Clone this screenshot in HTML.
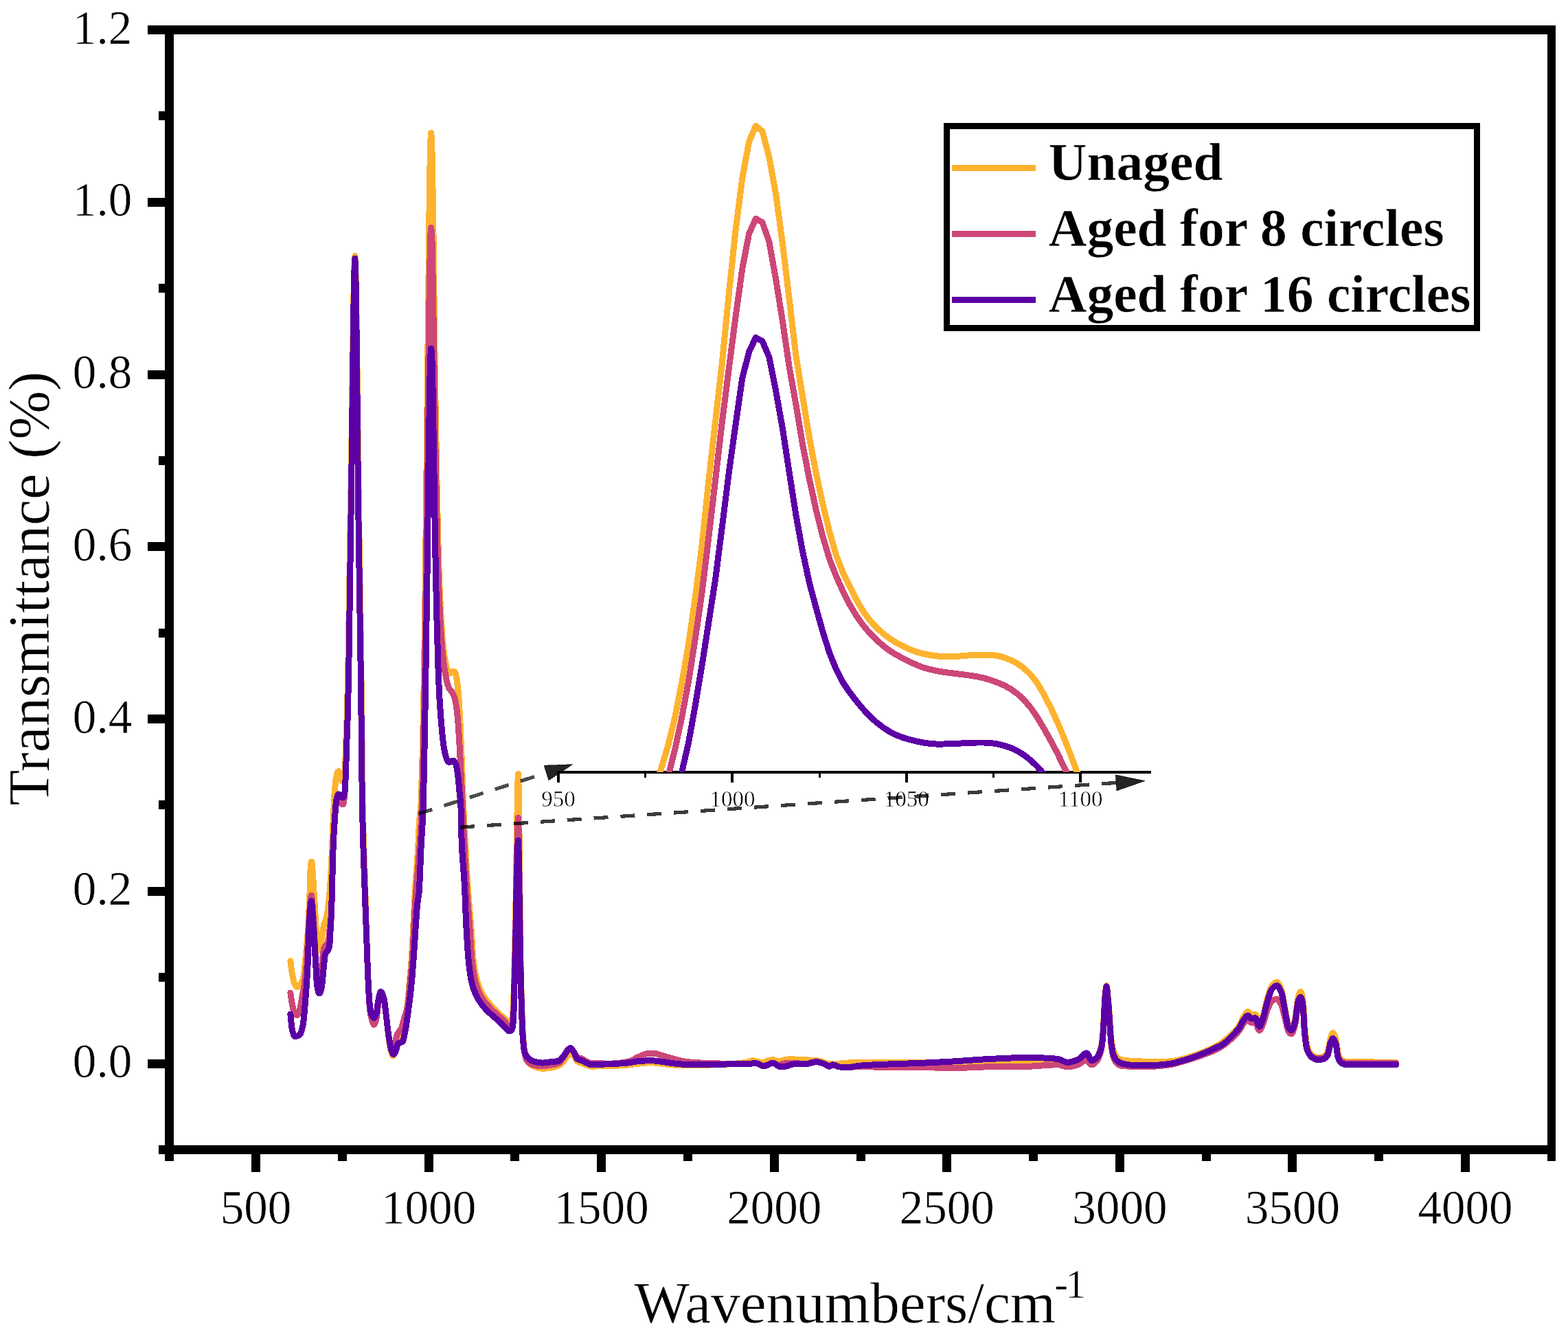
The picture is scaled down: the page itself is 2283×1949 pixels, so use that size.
<!DOCTYPE html>
<html lang="en"><head><meta charset="utf-8"><title>FTIR spectra</title>
<style>
html,body{margin:0;padding:0;background:#fff;}
body{width:2283px;height:1949px;overflow:hidden;}
svg{display:block;}
text{font-family:"Liberation Serif","Times New Roman",Times,serif;fill:#000;stroke:#fff;stroke-width:0.5px;}
.tk{font-size:70.5px;}
.ti{font-size:85.3px;}
.lg{font-size:77.5px;font-weight:bold;}
.it{font-size:33px;}
.c{fill:none;stroke-linejoin:round;stroke-linecap:round;shape-rendering:crispEdges;}
</style></head><body>
<svg width="2283" height="1949" viewBox="0 0 2283 1949">
<rect x="0" y="0" width="2283" height="1949" fill="#fff"/>
<g class="c" stroke-width="9">
<polyline stroke="#FDB32F" points="422.9,1398.8 423.9,1407.2 424.9,1414.4 425.5,1418 425.9,1420.1 426.9,1425.1 427.9,1429.1 428.6,1431 429.9,1433.6 430.9,1435.2 431.9,1436.3 432.8,1436.7 433.9,1436.3 434.9,1435.5 435.9,1434.4 437,1433 437.9,1431.9 438.9,1430.4 439.9,1428.5 440.9,1426.1 441.7,1423.6 442.9,1415.8 443.9,1405.7 445.1,1392.7 445.9,1384.8 446.9,1374.2 447.9,1361.8 448.9,1346.1 449.7,1330.9 451,1300 451.9,1268 452.9,1256.6 453.5,1254.3 453.9,1255.4 455.2,1268 455.9,1278.6 456.8,1295 458,1313 458.9,1328.4 459.9,1346.1 460.8,1358.3 461.9,1368 463.2,1376 463.9,1379.3 465.2,1383 465.9,1381.4 466.9,1375.7 467.5,1372 467.9,1369.7 468.9,1362.9 469.8,1357 470.9,1350.4 472,1345 472.9,1342.3 473.9,1339.8 474.5,1338 474.9,1336.6 475.9,1332.6 476.8,1328 477.9,1320.2 478.8,1312 479.9,1300.1 480.8,1288 481.9,1269 483,1246.2 483.9,1225.5 484.9,1200.6 485.6,1184.4 486.9,1158.1 487.3,1152 487.9,1144.9 488.9,1135.3 489.6,1131 490.9,1126 491.9,1123.4 492.7,1122.7 493.9,1123.9 494.9,1126.2 495.6,1128 496.9,1133.7 498,1137 498.9,1136.9 499.9,1136.4 500.5,1136 500.9,1134.6 501.9,1123.9 502.3,1118 502.9,1105.4 503.9,1076.3 504.9,1051.3 505.6,1030 506.9,970.7 507.9,910.9 508.9,845.8 509.9,781.6 510.3,757 510.9,719.9 511.9,647.6 512.9,570.4 513.9,496.3 514.9,433.2 515.9,389.4 516.9,372.7 517.9,393.6 518.9,449.3 519.9,527.5 520.9,616.2 521.9,703 522.6,757 523.9,843.2 524.9,910.3 525.9,982 526.5,1030 526.9,1066.4 528,1169 528.9,1208.8 529.9,1241.4 530.9,1268.9 531.9,1300 532.9,1336.9 533.6,1361.8 534.9,1399.4 535.9,1423.6 536.9,1443.5 538.2,1462.2 538.9,1467.2 539.9,1472.8 540.9,1476.6 541.3,1477.6 541.9,1478.7 542.9,1480.4 543.9,1481.4 544.4,1481.5 544.9,1481.4 545.9,1480.3 546.9,1478.3 547.9,1475.7 548.3,1474.5 548.9,1471.3 549.9,1462.7 550.6,1457.5 551.9,1451 552.9,1446.6 553.9,1444 554.4,1443.6 554.9,1443.8 555.9,1445 556.9,1447.2 557.9,1450.2 559.1,1454.4 559.9,1458.5 560.9,1466.3 562.2,1477.6 562.9,1483.5 563.9,1492.8 564.9,1502.1 566,1511 566.9,1517.1 567.9,1523.5 568.9,1528.7 569.5,1531 569.9,1532.2 570.9,1535 571.9,1536.8 572.3,1537 572.9,1536.6 573.9,1534.7 574.9,1531.8 575.5,1530 575.9,1528.7 576.9,1524.3 578.2,1519.5 578.9,1518.5 579.9,1517.4 581.2,1516 581.9,1515 582.9,1513.5 583.9,1511.5 584.5,1510 584.9,1508.7 585.9,1503.7 586.9,1497.6 587.5,1494 587.9,1492 588.9,1486.7 589.9,1481.3 590.5,1478 590.9,1476 591.9,1471.1 592.9,1465.5 593.4,1462 593.9,1457.9 594.9,1446.9 596.2,1431 596.9,1423.6 597.9,1412.9 598.9,1401.2 599.5,1392.7 599.9,1386.7 600.9,1367.4 601.9,1346.3 602.9,1325.5 604,1303 604.9,1289 605.9,1274.9 606.9,1261.4 608,1245 608.9,1229 609.9,1208.6 610.9,1191.3 611.5,1184.4 611.9,1182.3 612.8,1177.5 613.6,1149.6 615,1102.5 616,1055.9 617,1005.6 617.9,953.7 619.1,860.6 619.9,795.8 620.5,730.9 620.9,698.7 621.2,666.1 621.9,601.3 622.6,543.6 623.7,429.5 624.4,364.6 625.1,299.8 625.7,256.7 626.5,217.7 626.9,204 627.5,193.5 627.9,195.4 628.4,202.1 628.9,216.2 629.4,241.5 629.9,265.9 630.4,299.8 630.9,333.2 631.3,364.6 632,429.5 632.8,494.3 633.4,544.6 633.9,575.1 634.3,601.3 634.9,635.9 635.4,666.1 635.9,693.1 636.6,730.9 638.1,795.8 638.9,823.3 639.4,839 639.9,851.3 640.9,872.7 641.4,882.5 641.9,893.1 642.6,906.1 644.1,928 644.9,936.6 645.6,943.7 647.2,955.5 647.9,959.8 648.7,964.2 649.9,969.9 650.2,971.3 650.9,973.5 651.8,976 652.9,978 653.3,978.6 653.9,979.3 654.8,979.9 655.9,979.7 656.4,979.5 656.9,979.2 657.9,978.3 658.9,977.6 659.4,977.5 659.9,977.5 661,977.5 661.9,977.9 662.5,978.6 662.9,979.5 663.3,981.1 663.9,983.2 664.9,987.8 665.9,994.5 666.4,998.8 666.9,1003.3 667.9,1016 668.9,1031.6 669.5,1042.7 669.9,1051 671,1075.8 671.9,1097 672.5,1113.4 672.9,1122.8 673.8,1149.6 674.9,1177.5 675.9,1197.5 676.8,1215 677.9,1235.4 678.9,1254.2 679.9,1272 681,1290 681.9,1301.9 682.9,1314.3 683.9,1325.8 684.9,1337.5 685.8,1349.2 686.9,1365.1 687.9,1381 688.9,1394.4 689.3,1398.5 689.9,1402.9 690.9,1409.7 691.9,1415.6 692.9,1420.6 693.9,1424.9 695,1429 695.9,1431.8 696.9,1434.7 697.9,1437.4 698.9,1439.8 699.9,1442 700.9,1444.1 701.9,1446 703,1448 703.9,1449.5 704.9,1451 705.9,1452.5 706.9,1453.9 707.9,1455.3 708.9,1456.5 709.9,1457.8 710.9,1459 711.9,1460.2 713,1461.5 713.9,1462.5 714.9,1463.6 715.9,1464.7 716.9,1465.8 717.9,1466.9 718.9,1467.9 719.9,1468.9 720.9,1469.9 721.9,1470.9 722.9,1471.9 723.9,1472.9 724.5,1473.5 724.9,1473.8 725.9,1474.8 726.9,1475.7 727.9,1476.6 728.9,1477.5 729.9,1478.3 730.9,1479.2 731.9,1480.1 732.9,1481 733.9,1481.9 734.9,1482.9 735.5,1483.5 735.9,1483.9 736.9,1485.2 737.9,1486.6 738.9,1488 739.9,1489.1 740.9,1489.9 741.5,1490 741.9,1490 742.9,1489.3 743.9,1488.1 745,1486 745.9,1482.3 746.9,1473.2 747.4,1466 747.9,1452.4 748.4,1430 748.9,1413.1 749.7,1380 750.9,1320 751.9,1250 752.9,1189.8 753.9,1138.5 754.5,1126.6 754.9,1133.9 755.9,1204.4 756.4,1250 756.9,1292.4 758,1398.5 758.9,1436.7 759.7,1464.1 760.9,1496.6 761.3,1505.1 761.9,1513 762.9,1524 763.8,1531 764.9,1536.5 765.9,1540.6 767,1543.5 767.9,1544.9 768.9,1546.2 769.9,1547.4 770.9,1548.4 771.9,1549.3 772.9,1550 773.9,1550.6 774.9,1551.1 775.9,1551.5 776.9,1552 777.9,1552.4 778.9,1552.8 779.9,1553.2 780.9,1553.5 781.9,1553.9 782.9,1554.2 783.9,1554.4 784.9,1554.7 785.9,1554.9 786.9,1555 787.9,1555.1 788.9,1555.2 789.6,1555.2 790.9,1555.2 791.9,1555.2 792.9,1555.1 793.9,1555 794.9,1555 795.9,1554.9 796.9,1554.8 797.9,1554.7 798.9,1554.6 799.9,1554.5 801.1,1554.3 801.9,1554.2 802.9,1554 803.9,1553.9 804.9,1553.6 805.9,1553.4 806.9,1553.1 807.9,1552.8 808.9,1552.5 809.9,1552.2 810.9,1551.8 811.9,1551.4 812.6,1551.1 813.9,1550.5 814.9,1549.9 815.9,1549.1 816.9,1548.3 817.9,1547.4 818.9,1546.5 819.9,1545.5 820.8,1544.5 821.9,1543.2 822.9,1541.7 823.9,1540.1 824.9,1538.5 826,1537 826.8,1536 827.8,1534.7 828.8,1533.5 829.8,1532.7 830.7,1532.5 831.8,1532.9 832.8,1533.7 833.8,1534.9 834.8,1536.1 835.6,1537 836.8,1538.8 837.8,1540.6 838.8,1542.4 839.8,1543.9 840.5,1544.5 841.8,1545.3 842.8,1545.8 843.8,1546.3 844.8,1546.6 845.8,1547 847.1,1547.5 847.8,1547.8 848.8,1548.2 849.8,1548.6 850.8,1549 851.8,1549.4 852.8,1549.7 853.6,1550 854.8,1550.5 855.8,1550.9 856.8,1551.3 857.8,1551.6 858.8,1551.9 859.8,1552 860.2,1552 860.8,1552 861.8,1552 862.8,1552 863.8,1552 864.8,1552 865.8,1552 866.8,1552 867.8,1552 868.8,1551.9 869.8,1551.9 870.8,1551.9 871.8,1551.9 872.8,1551.9 873.8,1551.9 874.8,1551.9 875.8,1551.8 876.8,1551.8 877.8,1551.8 878.8,1551.8 879.8,1551.7 880.8,1551.7 881.8,1551.7 882.8,1551.7 883.8,1551.7 884.8,1551.6 885.8,1551.6 886.8,1551.6 887.8,1551.5 888.8,1551.5 889.7,1551.5 890.8,1551.5 891.8,1551.4 892.8,1551.4 893.8,1551.4 894.8,1551.3 895.8,1551.3 896.8,1551.2 897.8,1551.2 898.8,1551.1 899.8,1551.1 900.8,1551 901.8,1550.9 902.8,1550.9 903.8,1550.8 904.8,1550.7 905.8,1550.7 906.8,1550.6 907.8,1550.5 908.8,1550.4 909.8,1550.4 910.8,1550.3 911.8,1550.2 912.8,1550.1 913.8,1550 914.4,1550 914.8,1550 915.8,1549.9 916.8,1549.8 917.8,1549.6 918.8,1549.5 919.8,1549.4 920.8,1549.3 921.8,1549.1 922.8,1549 923.8,1548.8 924.8,1548.7 925.8,1548.6 926.8,1548.4 927.8,1548.3 928.8,1548.2 929.8,1548.1 930.8,1548 931.8,1547.9 932.8,1547.8 933.8,1547.7 934.8,1547.6 935.8,1547.5 936.8,1547.4 937.8,1547.3 938.8,1547.2 939.8,1547.1 940.8,1547.1 941.8,1547 942.8,1546.9 943.8,1546.9 944.8,1546.8 945.8,1546.8 946.8,1546.8 947.2,1546.8 947.8,1546.8 948.8,1546.8 949.8,1546.9 950.8,1546.9 951.8,1547 952.8,1547.1 953.8,1547.1 954.8,1547.2 955.8,1547.3 956.8,1547.5 957.8,1547.6 958.8,1547.7 959.8,1547.8 960.8,1547.9 961.8,1548 962.8,1548.1 963.6,1548.2 964.8,1548.3 965.8,1548.4 966.8,1548.6 967.8,1548.7 968.8,1548.8 969.8,1549 970.8,1549.1 971.8,1549.2 972.8,1549.3 973.8,1549.5 974.8,1549.6 975.8,1549.7 976.8,1549.8 977.8,1549.9 978.8,1549.9 980,1550 980.8,1550 981.8,1550.1 982.8,1550.1 983.8,1550.2 984.8,1550.2 985.8,1550.2 986.8,1550.3 987.8,1550.3 988.8,1550.3 989.8,1550.3 990.8,1550.4 991.8,1550.4 992.8,1550.4 993.8,1550.4 994.8,1550.5 995.8,1550.5 996.8,1550.5 997.8,1550.5 998.8,1550.5 1000,1550.5 1000.8,1550.5 1001.8,1550.5 1002.8,1550.5 1003.8,1550.5 1004.8,1550.5 1005.8,1550.5 1006.8,1550.5 1007.8,1550.5 1008.8,1550.5 1009.8,1550.5 1010.8,1550.4 1011.8,1550.4 1012.8,1550.4 1013.8,1550.4 1014.8,1550.4 1015.8,1550.4 1016.8,1550.4 1017.8,1550.3 1018.8,1550.3 1019.8,1550.3 1020.8,1550.3 1021.8,1550.3 1022.8,1550.3 1023.8,1550.2 1024.8,1550.2 1025.8,1550.2 1026.8,1550.2 1027.8,1550.1 1028.8,1550.1 1029.8,1550.1 1030.8,1550.1 1031.8,1550 1032.8,1550 1033.8,1550 1034.8,1550 1035.8,1549.9 1036.8,1549.9 1037.8,1549.9 1038.8,1549.9 1039.8,1549.8 1040.8,1549.8 1041.8,1549.8 1042.8,1549.7 1043.8,1549.7 1044.8,1549.7 1045.8,1549.6 1046.8,1549.6 1047.8,1549.6 1048.8,1549.5 1050,1549.5 1050.8,1549.5 1051.8,1549.4 1052.8,1549.4 1053.8,1549.3 1054.8,1549.3 1055.8,1549.3 1056.8,1549.2 1057.8,1549.1 1058.8,1549.1 1059.8,1549 1060.8,1549 1061.8,1548.9 1062.8,1548.8 1063.8,1548.7 1064.8,1548.7 1065.8,1548.6 1066.8,1548.5 1067.8,1548.4 1068.8,1548.3 1069.8,1548.2 1070.8,1548.1 1071.8,1548 1072.8,1547.9 1073.8,1547.8 1074.8,1547.7 1075.8,1547.6 1076.8,1547.5 1077.8,1547.4 1078.8,1547.3 1079.8,1547.2 1080.8,1547 1081.8,1546.9 1082.8,1546.8 1083.8,1546.7 1085,1546.5 1085.8,1546.4 1086.8,1546.1 1087.8,1545.9 1088.8,1545.6 1089.8,1545.3 1090.8,1544.9 1091.8,1544.6 1092.8,1544.3 1093.8,1544.1 1094.8,1543.9 1095.8,1543.8 1096.5,1543.8 1097.8,1543.9 1098.8,1544.1 1099.8,1544.4 1100.8,1544.7 1101.8,1545 1102.8,1545.2 1104,1545.5 1104.8,1545.6 1105.8,1545.8 1106.8,1546 1107.8,1546.2 1108.8,1546.4 1109.8,1546.5 1111,1546.5 1111.8,1546.4 1112.8,1546.2 1113.8,1545.8 1114.8,1545.3 1115.8,1544.8 1116.8,1544.4 1118,1544 1118.8,1543.8 1119.8,1543.5 1120.8,1543.3 1121.8,1543.1 1122.8,1542.9 1123.8,1542.7 1124.8,1542.6 1125.5,1542.6 1126.8,1542.8 1127.8,1543 1128.8,1543.4 1129.8,1543.8 1130.8,1544.2 1131.8,1544.6 1132.8,1544.9 1134,1545 1134.8,1545 1135.8,1544.8 1136.8,1544.6 1137.8,1544.3 1138.8,1543.9 1139.8,1543.6 1140.8,1543.3 1142,1543 1142.8,1542.8 1143.8,1542.6 1144.8,1542.4 1145.8,1542.2 1146.8,1542 1147.8,1541.9 1148.8,1541.8 1149.6,1541.8 1150.8,1541.8 1151.8,1541.8 1152.8,1541.8 1153.8,1541.9 1154.8,1541.9 1155.8,1541.9 1156.8,1542 1157.8,1542 1158.8,1542.1 1159.8,1542.1 1160.8,1542.2 1161.8,1542.2 1162.8,1542.3 1163.8,1542.3 1164.8,1542.4 1165.8,1542.4 1166.8,1542.5 1167.8,1542.5 1168.9,1542.6 1169.8,1542.6 1170.8,1542.7 1171.8,1542.7 1172.8,1542.8 1173.8,1542.8 1174.8,1542.9 1175.8,1542.9 1176.8,1543 1177.8,1543 1178.8,1543.1 1179.8,1543.1 1180.8,1543.2 1181.8,1543.2 1182.8,1543.3 1183.8,1543.4 1184.8,1543.4 1185.8,1543.5 1186.8,1543.6 1187.8,1543.7 1188.8,1543.8 1189.8,1543.8 1190.8,1543.9 1191.8,1544.1 1193.1,1544.2 1193.8,1544.3 1194.8,1544.5 1195.8,1544.8 1196.8,1545.2 1197.8,1545.5 1198.8,1546 1199.8,1546.4 1200.8,1546.8 1201.8,1547.1 1202.8,1547.5 1203.8,1547.8 1205,1548 1205.8,1548.1 1206.8,1548.3 1207.8,1548.4 1208.8,1548.5 1209.8,1548.7 1210.8,1548.8 1211.8,1548.9 1212.8,1548.9 1213.8,1549 1215,1549 1215.8,1549 1216.8,1548.9 1217.8,1548.9 1218.8,1548.8 1219.8,1548.7 1220.8,1548.5 1221.8,1548.4 1222.8,1548.2 1223.8,1548.1 1224.8,1547.9 1225.8,1547.8 1226.8,1547.6 1227.8,1547.5 1228.8,1547.4 1229.2,1547.4 1229.8,1547.4 1230.8,1547.3 1231.8,1547.2 1232.8,1547.1 1233.8,1547.1 1234.8,1547 1235.8,1546.9 1236.8,1546.9 1237.8,1546.8 1238.8,1546.7 1239.8,1546.7 1240.8,1546.6 1241.8,1546.6 1242.8,1546.5 1243.8,1546.5 1244.8,1546.4 1245.8,1546.4 1246.8,1546.3 1247.8,1546.3 1248.8,1546.3 1249.8,1546.2 1250.8,1546.2 1251.8,1546.2 1252.8,1546.2 1253.4,1546.2 1253.8,1546.2 1254.8,1546.2 1255.8,1546.2 1256.8,1546.2 1257.8,1546.2 1258.8,1546.2 1259.8,1546.2 1260.8,1546.2 1261.8,1546.2 1262.8,1546.2 1263.8,1546.2 1264.8,1546.2 1265.8,1546.2 1266.8,1546.2 1267.8,1546.2 1268.8,1546.2 1269.8,1546.2 1270.8,1546.2 1271.8,1546.2 1272.8,1546.2 1273.8,1546.2 1274.8,1546.2 1275.8,1546.2 1276.8,1546.2 1277.8,1546.2 1278.8,1546.2 1279.8,1546.2 1280.8,1546.2 1281.8,1546.2 1282.8,1546.2 1283.8,1546.2 1284.8,1546.2 1285.8,1546.2 1286.8,1546.2 1287.8,1546.2 1288.8,1546.2 1289.6,1546.2 1290.8,1546.2 1291.8,1546.2 1292.8,1546.2 1293.8,1546.2 1294.8,1546.2 1295.8,1546.2 1296.8,1546.2 1297.8,1546.2 1298.8,1546.2 1299.8,1546.2 1300.8,1546.2 1301.8,1546.2 1302.8,1546.2 1303.8,1546.2 1304.8,1546.2 1305.8,1546.2 1306.8,1546.2 1307.8,1546.2 1308.8,1546.2 1309.8,1546.2 1310.8,1546.2 1311.8,1546.2 1312.8,1546.2 1313.8,1546.2 1314.8,1546.2 1315.8,1546.2 1316.8,1546.2 1317.8,1546.2 1318.8,1546.2 1319.8,1546.2 1320.8,1546.2 1321.8,1546.2 1322.8,1546.2 1323.8,1546.2 1324.8,1546.2 1325.8,1546.2 1326.8,1546.2 1327.8,1546.2 1328.8,1546.2 1329.8,1546.2 1330.8,1546.2 1331.8,1546.2 1332.8,1546.2 1333.8,1546.2 1334.8,1546.2 1335.8,1546.2 1336.8,1546.2 1337.8,1546.2 1338.8,1546.3 1339.8,1546.3 1340.8,1546.3 1341.8,1546.3 1342.8,1546.3 1343.8,1546.3 1344.8,1546.3 1345.8,1546.3 1346.8,1546.3 1347.8,1546.3 1348.8,1546.3 1349.8,1546.4 1350.8,1546.4 1351.8,1546.4 1352.8,1546.4 1353.8,1546.4 1354.8,1546.4 1355.8,1546.4 1356.8,1546.4 1357.8,1546.5 1358.8,1546.5 1359.8,1546.5 1360.8,1546.5 1361.8,1546.5 1362.8,1546.5 1363.8,1546.5 1364.8,1546.5 1365.8,1546.6 1366.8,1546.6 1367.8,1546.6 1368.8,1546.6 1369.8,1546.6 1370.8,1546.6 1371.8,1546.6 1372.8,1546.7 1373.8,1546.7 1374.8,1546.7 1375.8,1546.7 1376.8,1546.7 1377.8,1546.7 1378.8,1546.7 1379.8,1546.7 1380.8,1546.7 1381.8,1546.8 1382.8,1546.8 1383.8,1546.8 1384.8,1546.8 1386.1,1546.8 1386.8,1546.8 1387.8,1546.8 1388.8,1546.8 1389.8,1546.8 1390.8,1546.8 1391.8,1546.9 1392.8,1546.9 1393.8,1546.9 1394.8,1546.9 1395.8,1546.9 1396.8,1546.9 1397.8,1546.9 1398.8,1546.9 1399.8,1546.9 1400.8,1546.9 1401.8,1546.9 1402.8,1547 1403.8,1547 1404.8,1547 1405.8,1547 1406.8,1547 1407.8,1547 1408.8,1547 1409.8,1547 1410.8,1547 1411.8,1547 1412.8,1547 1413.8,1547.1 1414.8,1547.1 1415.8,1547.1 1416.8,1547.1 1417.8,1547.1 1418.8,1547.1 1419.8,1547.1 1420.8,1547.1 1421.8,1547.1 1422.8,1547.1 1423.8,1547.1 1424.8,1547.1 1425.8,1547.1 1426.8,1547.2 1427.8,1547.2 1428.8,1547.2 1429.8,1547.2 1430.8,1547.2 1431.8,1547.2 1432.8,1547.2 1433.8,1547.2 1434.4,1547.2 1434.8,1547.2 1435.8,1547.2 1436.8,1547.2 1437.8,1547.2 1438.8,1547.2 1439.8,1547.2 1440.8,1547.2 1441.8,1547.2 1442.8,1547.2 1443.8,1547.3 1444.8,1547.3 1445.8,1547.3 1446.8,1547.3 1447.8,1547.3 1448.8,1547.3 1449.8,1547.3 1450.8,1547.3 1451.8,1547.3 1452.8,1547.3 1453.8,1547.3 1454.8,1547.3 1455.8,1547.3 1456.8,1547.3 1457.8,1547.3 1458.8,1547.3 1459.8,1547.3 1460.8,1547.3 1461.8,1547.3 1462.8,1547.4 1463.8,1547.4 1464.8,1547.4 1465.8,1547.4 1466.8,1547.4 1467.8,1547.4 1468.8,1547.4 1469.8,1547.4 1470.8,1547.4 1471.8,1547.4 1472.8,1547.4 1473.8,1547.4 1474.8,1547.4 1475.8,1547.4 1476.8,1547.4 1477.8,1547.4 1478.8,1547.4 1479.8,1547.4 1480.8,1547.4 1481.8,1547.4 1482.6,1547.4 1483.8,1547.4 1484.8,1547.4 1485.8,1547.4 1486.8,1547.4 1487.8,1547.4 1488.8,1547.4 1489.8,1547.4 1490.8,1547.4 1491.8,1547.3 1492.8,1547.3 1493.8,1547.3 1494.8,1547.3 1495.8,1547.3 1496.8,1547.3 1497.8,1547.2 1498.8,1547.2 1499.8,1547.2 1500.8,1547.2 1501.8,1547.2 1502.8,1547.1 1503.8,1547.1 1504.8,1547.1 1505.8,1547.1 1506.8,1547.1 1507.8,1547 1508.8,1547 1509.8,1547 1510.8,1547 1511.8,1546.9 1512.8,1546.9 1513.8,1546.9 1514.8,1546.9 1515.8,1546.8 1516.8,1546.8 1517.8,1546.8 1518.8,1546.8 1519.8,1546.8 1520.8,1546.7 1521.8,1546.7 1522.8,1546.7 1523.8,1546.7 1524.8,1546.7 1525.8,1546.6 1526.8,1546.6 1527.8,1546.6 1528.8,1546.6 1529.8,1546.6 1530.8,1546.6 1531.8,1546.6 1532.8,1546.5 1533.8,1546.5 1534.8,1546.5 1535.8,1546.5 1536.8,1546.5 1537.8,1546.5 1538.8,1546.5 1540,1546.5 1540.8,1546.5 1541.8,1546.6 1542.8,1546.7 1543.8,1546.9 1544.8,1547.1 1545.8,1547.4 1546.8,1547.6 1547.8,1547.9 1548.8,1548.1 1549.8,1548.4 1550.8,1548.6 1551.8,1548.8 1552.8,1548.9 1553.8,1549 1554.4,1549 1554.8,1549 1555.8,1549 1556.8,1548.9 1557.8,1548.8 1558.8,1548.6 1559.8,1548.5 1560.8,1548.3 1561.8,1548.1 1562.8,1547.8 1563.8,1547.5 1564.8,1547.3 1565.8,1547 1566.8,1546.7 1567.8,1546.4 1568.9,1546 1569.8,1545.7 1570.8,1545.1 1571.8,1544.4 1572.8,1543.5 1573.8,1542.7 1574.8,1541.7 1575.8,1540.8 1576.8,1539.9 1577.8,1539 1578.8,1538.3 1579.8,1537.7 1580.8,1537.3 1581.8,1537 1582.2,1537 1582.8,1537.2 1583.8,1538.1 1584.8,1539.6 1585.8,1541.4 1586.8,1543.2 1587.8,1544.8 1588.8,1545.8 1589.4,1546 1589.8,1546 1590.8,1545.7 1591.8,1545.1 1592.8,1544.4 1593.8,1543.4 1594.8,1542.3 1595.8,1541.1 1596.3,1540.5 1596.8,1539.9 1597.8,1538.3 1598.8,1536.4 1599.8,1534.1 1600.8,1531.5 1601.3,1530 1601.8,1528.7 1602.8,1525.3 1603.8,1520.9 1604.6,1516 1605.8,1503.4 1606.7,1489 1607.8,1467.8 1608.6,1453 1609.8,1440.7 1611,1434.3 1611.8,1437.1 1612.8,1446.3 1613.4,1453 1613.8,1456.7 1614.8,1469.2 1615.8,1483 1616.2,1489 1616.8,1496.8 1617.8,1510.8 1618.2,1515 1618.8,1518.6 1619.8,1523.9 1620.8,1527.9 1621.8,1531 1622.8,1533.2 1623.8,1535.2 1624.8,1536.8 1625.8,1538.2 1626.5,1539 1627.8,1540.2 1628.8,1541.1 1629.8,1541.8 1630.7,1542.3 1631.7,1542.6 1632.7,1542.8 1633.7,1542.9 1634.7,1543.1 1635.7,1543.2 1636.7,1543.4 1637.7,1543.5 1638.7,1543.6 1639.7,1543.7 1640.7,1543.8 1641.7,1543.8 1642.7,1543.9 1643.7,1544 1644.7,1544 1645.7,1544.1 1646.7,1544.2 1647.7,1544.2 1648.7,1544.3 1649.7,1544.3 1650.7,1544.4 1651.7,1544.4 1652.7,1544.5 1653.4,1544.5 1654.7,1544.6 1655.7,1544.6 1656.7,1544.7 1657.7,1544.8 1658.7,1544.8 1659.7,1544.9 1660.7,1544.9 1661.7,1545 1662.7,1545 1663.7,1545.1 1664.7,1545.1 1665.7,1545.2 1666.7,1545.2 1667.7,1545.3 1668.7,1545.3 1669.7,1545.4 1670.7,1545.4 1671.7,1545.4 1672.7,1545.4 1673.7,1545.5 1674.7,1545.5 1675.7,1545.5 1676.7,1545.5 1677.5,1545.5 1678.7,1545.5 1679.7,1545.5 1680.7,1545.5 1681.7,1545.5 1682.7,1545.5 1683.7,1545.5 1684.7,1545.4 1685.7,1545.4 1686.7,1545.4 1687.7,1545.4 1688.7,1545.4 1689.7,1545.4 1690.7,1545.3 1691.7,1545.3 1692.7,1545.3 1693.7,1545.3 1694.7,1545.2 1695.7,1545.2 1696.7,1545.2 1697.7,1545.1 1698.7,1545.1 1699.7,1545.1 1700.7,1545 1701.6,1545 1702.7,1544.9 1703.7,1544.9 1704.7,1544.8 1705.7,1544.7 1706.7,1544.6 1707.7,1544.4 1708.7,1544.3 1709.7,1544.1 1710.7,1544 1711.7,1543.8 1712.7,1543.6 1713.7,1543.4 1714.7,1543.2 1715.7,1542.9 1716.7,1542.7 1717.7,1542.5 1718.7,1542.2 1719.7,1542 1720.7,1541.7 1721.7,1541.5 1722.7,1541.3 1723.7,1541 1724.7,1540.8 1725.8,1540.5 1726.7,1540.3 1727.7,1540 1728.7,1539.7 1729.7,1539.4 1730.7,1539.1 1731.7,1538.8 1732.7,1538.5 1733.7,1538.2 1734.7,1537.8 1735.7,1537.5 1736.7,1537.1 1737.7,1536.8 1738.7,1536.4 1739.7,1536 1740.7,1535.6 1741.7,1535.2 1742.7,1534.9 1743.7,1534.5 1744.7,1534.1 1745.7,1533.7 1746.7,1533.3 1747.7,1532.9 1748.7,1532.5 1749.9,1532 1750.7,1531.7 1751.7,1531.3 1752.7,1530.9 1753.7,1530.5 1754.7,1530.1 1755.7,1529.7 1756.7,1529.3 1757.7,1528.9 1758.7,1528.4 1759.7,1528 1760.7,1527.6 1761.7,1527.2 1762.7,1526.7 1763.7,1526.3 1764.7,1525.8 1765.7,1525.3 1766.7,1524.9 1767.7,1524.4 1768.7,1523.9 1769.7,1523.4 1770.7,1522.8 1771.7,1522.3 1772.7,1521.7 1774,1521 1774.7,1520.6 1775.7,1519.9 1776.7,1519.3 1777.7,1518.6 1778.7,1517.9 1779.7,1517.2 1780.7,1516.5 1781.7,1515.8 1782.7,1515 1783.7,1514.2 1784.7,1513.4 1785.7,1512.5 1786.7,1511.7 1787.7,1510.8 1788.7,1509.9 1789.7,1509 1790.7,1508.1 1791.7,1507.2 1792.7,1506.2 1793.7,1505.3 1794.5,1504.5 1795.7,1503.3 1796.7,1502.3 1797.7,1501.2 1798.7,1500.1 1799.7,1499 1800.7,1497.8 1801.7,1496.5 1802.7,1495.2 1803.7,1493.8 1804.6,1492.5 1805.7,1490.5 1806.7,1488.5 1807.7,1486.3 1808.7,1484 1809.7,1481.9 1810.7,1480.1 1811.1,1479.5 1811.7,1478.5 1812.7,1476.9 1813.7,1475.3 1814.7,1473.9 1815.7,1472.9 1816.9,1472.4 1817.7,1472.8 1818.7,1473.9 1819.7,1475.4 1820.7,1476.7 1822,1477.5 1822.7,1477.5 1823.7,1477.3 1824.7,1477 1825.7,1476.8 1826.7,1476.6 1827.8,1476.5 1828.7,1477.4 1829.7,1480 1830.7,1483.3 1831.7,1486.7 1832.7,1489.2 1833.6,1490 1834.7,1489.2 1835.7,1487.5 1836.7,1485 1837.7,1482.1 1838.7,1479 1839.4,1477 1840.7,1472.4 1841.7,1468.1 1842.7,1463.6 1843.7,1459.1 1844.7,1455.1 1845.2,1453.5 1845.7,1451.8 1846.7,1448.5 1847.7,1445.4 1848.7,1442.4 1849.7,1439.6 1850.7,1437.3 1851.7,1435.4 1852.4,1434.5 1853.7,1433 1854.7,1432 1855.7,1431.1 1856.7,1430.4 1857.7,1429.9 1858.9,1429.7 1859.7,1429.9 1860.7,1430.7 1861.7,1432 1862.7,1433.7 1863.7,1435.7 1864.7,1437.9 1865.4,1439.5 1866.7,1444.1 1867.7,1449 1868.7,1454.8 1869.7,1460.7 1870.7,1466.5 1871.2,1469 1871.7,1471.8 1872.7,1477.6 1873.7,1483.4 1874.7,1488.2 1875.6,1491 1876.7,1493.3 1877.7,1495.1 1878.7,1496.4 1879.9,1497 1880.7,1496.6 1881.7,1495.2 1882.7,1492.9 1883.7,1490 1884.7,1486.6 1885.7,1483 1886.7,1477 1887.7,1468.6 1888.7,1459.8 1890,1452 1890.7,1449.5 1891.7,1446.4 1892.7,1444.2 1893.7,1443.4 1894.7,1444.7 1895.7,1448.1 1896.7,1453.2 1897.5,1458 1898.7,1476.7 1899.9,1497 1900.7,1505.1 1901.7,1513.7 1902.7,1520.3 1903.6,1524 1904.7,1527 1905.7,1529.3 1906.7,1531.2 1907.7,1532.8 1908.7,1534.1 1909.7,1535.1 1910.8,1536 1911.7,1536.6 1912.7,1537.3 1913.7,1537.8 1914.7,1538.4 1915.7,1538.8 1916.7,1539.2 1917.7,1539.4 1919,1539.5 1919.7,1539.5 1920.7,1539.4 1921.7,1539.3 1922.7,1539.2 1923.7,1539 1924.7,1538.8 1925.7,1538.6 1926.7,1538.3 1927.7,1538 1928.7,1537.5 1929.7,1536.5 1930.7,1535.3 1931.7,1533.7 1932.7,1531.8 1933.3,1530.5 1933.7,1529.3 1934.7,1524.3 1935.7,1518.2 1936.9,1512.5 1937.7,1509.8 1938.7,1506.7 1939.7,1504.4 1940.7,1503.5 1941.7,1504.2 1942.7,1506 1943.7,1508.7 1944.7,1512 1945.3,1514 1945.7,1515.9 1946.7,1523.3 1947.7,1531.1 1948.5,1535 1949.7,1537.9 1950.7,1539.9 1951.7,1541.4 1952.7,1542.6 1953.7,1543.4 1954.2,1543.7 1954.7,1543.9 1955.7,1544.3 1956.7,1544.6 1957.7,1544.9 1958.7,1545.2 1959.7,1545.3 1960.7,1545.5 1961.7,1545.6 1962.4,1545.6 1963.7,1545.6 1964.7,1545.6 1965.7,1545.6 1966.7,1545.7 1967.7,1545.7 1968.7,1545.7 1969.7,1545.7 1970.7,1545.7 1971.7,1545.7 1972.7,1545.7 1973.7,1545.7 1974.7,1545.7 1975.7,1545.7 1976.7,1545.7 1977.7,1545.7 1978.7,1545.7 1979.7,1545.7 1980.7,1545.7 1981.7,1545.7 1982.7,1545.7 1983.7,1545.8 1984.7,1545.8 1985.7,1545.8 1986.7,1545.8 1987.7,1545.8 1988.7,1545.8 1989.9,1545.8 1990.7,1545.8 1991.7,1545.8 1992.7,1545.8 1993.7,1545.8 1994.7,1545.9 1995.7,1545.9 1996.7,1545.9 1997.7,1545.9 1998.7,1545.9 1999.7,1545.9 2000.7,1546 2001.7,1546 2002.7,1546 2003.7,1546 2004.7,1546 2005.7,1546.1 2006.7,1546.1 2007.7,1546.1 2008.7,1546.1 2009.7,1546.1 2010.7,1546.2 2011.7,1546.2 2012.7,1546.2 2013.7,1546.2 2014.7,1546.3 2015.7,1546.3 2016.7,1546.3 2017.7,1546.3 2018.7,1546.4 2019.7,1546.4 2020.7,1546.4 2021.7,1546.5 2022.7,1546.5 2023.7,1546.5 2024.7,1546.5 2025.7,1546.6 2026.7,1546.6 2027.7,1546.6 2028.7,1546.7 2029.7,1546.7 2030.7,1546.7 2031.7,1546.8 2032.7,1546.8"/>
<polyline stroke="#CC4778" points="422.9,1445.2 423.9,1452.4 424.9,1458.8 425.5,1462 425.9,1464 426.9,1469 427.9,1472.9 428.6,1474.5 429.9,1476.1 430.9,1477 431.9,1477.5 432.4,1477.6 432.9,1477.4 433.9,1476.1 434.9,1473.9 435.9,1471.1 436.3,1470 436.9,1467.9 437.9,1463 438.9,1457.2 439.8,1452 440.9,1446.2 441.9,1440.8 442.9,1434.9 443.6,1430 444.9,1419.3 445.9,1409.1 446.8,1398 447.9,1378.2 449.2,1352 449.9,1340.3 451.2,1322 451.9,1314.3 452.9,1305.2 453.5,1303.2 453.9,1304.4 454.9,1315.4 455.9,1332 456.4,1340 456.9,1347.9 457.9,1366.1 458.9,1384.8 459.5,1395 459.9,1401.6 460.9,1418.3 461.8,1428 462.9,1433.2 463.9,1436.3 464.6,1437 465.9,1433.2 467.2,1425 467.9,1417.6 468.9,1403 469.5,1396 469.9,1392.7 470.9,1385.1 472,1380 472.9,1378.3 473.9,1377.1 474.9,1375.9 475.5,1375 475.9,1374.3 476.9,1372.5 477.9,1370.1 478.5,1368 478.9,1365.3 479.9,1352.9 480.8,1346.3 481.5,1346.3 481.9,1343.3 482.9,1316.9 483.4,1300 483.9,1278 484.6,1246.2 485.9,1216 486.9,1198.9 488,1184.4 488.9,1174.9 489.6,1170 490.9,1165.1 491.9,1162.7 492.7,1162 493.9,1162.8 494.9,1164.3 496,1166 496.9,1167.6 497.9,1169.6 499.2,1171 499.9,1169.9 500.9,1165 501.6,1160 502.9,1137.6 503.5,1122.7 503.9,1112 505,1076.3 505.9,1052.3 506.6,1030 507.9,964.5 508.9,897.6 509.9,825.9 510.9,757 511.9,685.6 512.9,602.8 513.9,519.8 514.9,447.4 515.9,395.9 516.9,376.1 517.9,402.3 518.9,470.5 519.9,562.8 520.9,661.5 522,757 522.9,818.5 523.9,884.8 524.9,953.2 525.9,1030 526.9,1129 527.4,1169 527.9,1192.8 528.9,1231.4 529.9,1261.2 530.9,1288.2 531.3,1300 531.9,1316.6 532.9,1343 533.6,1361.8 534.9,1397.9 535.9,1423.6 536.9,1445.1 538.2,1466 538.9,1471.6 539.9,1477.9 540.9,1482.5 541.3,1484 541.9,1486 542.9,1489.2 543.9,1491.2 544.4,1491.5 544.9,1491.3 545.9,1489.7 546.9,1487.1 547.8,1484 548.9,1476.8 549.9,1467.5 550.6,1462 551.9,1453.7 552.9,1447.8 553.9,1444.2 554.4,1443.6 554.9,1443.8 555.9,1445 556.9,1447.2 557.9,1450.2 559.1,1454.4 559.9,1458.5 560.9,1466.4 562.2,1477.6 562.9,1483.2 563.9,1491.8 564.9,1500.3 566,1508.5 566.9,1514.2 567.9,1520.4 568.9,1525.5 569.9,1529 570.9,1531.2 571.9,1532.7 572.5,1533 572.9,1532.6 573.9,1528.3 575,1522 575.9,1516.8 576.9,1510.6 577.5,1508 577.9,1506.9 578.9,1504.7 579.9,1502.9 580.5,1502 580.9,1501.5 581.9,1500.4 582.9,1499.5 584,1498 584.9,1495.8 585.9,1492.2 586.9,1488.3 587.5,1486 587.9,1484.7 588.9,1481.5 589.9,1478.3 590.8,1475 591.9,1471 592.9,1466.9 593.8,1462 594.9,1453.1 595.9,1442.2 596.9,1431 597.9,1421.5 598.9,1411.9 599.9,1400.9 600.5,1392.7 600.9,1386.5 601.9,1365.6 602.8,1346.3 603.9,1327.2 604.9,1310.9 605.4,1303 605.9,1296.3 606.9,1283.6 607.9,1271.7 608.9,1259.7 610,1245 610.9,1232.9 611.9,1218.8 612.9,1202.6 613.8,1184.4 615,1149.6 616.1,1102.5 617,1055.9 617.9,1005.6 618.7,953.7 619.3,910.9 620,860.6 620.7,795.8 621.5,730.9 622.2,666.1 622.9,601.3 623.7,544.6 624.3,494.3 625.1,429.5 625.8,386.3 626.5,353.9 626.9,341 627.5,331.2 627.9,332.4 628.4,337 628.9,347 629.4,366.8 629.9,390.8 630.5,429.5 630.9,454.4 631.5,494.3 632.2,544.6 633.2,601.3 634.2,666.1 634.9,701.1 635.5,730.9 635.9,749.2 637,795.8 637.9,828.3 638.2,839 638.9,856.2 640,882.5 641,902.9 641.9,917.6 642.6,928 644.1,946.9 644.9,954.9 645.6,961.8 647.2,973.6 647.9,977.9 648.7,982.3 649.9,988.4 650.2,990.1 650.9,993 651.8,996.4 652.9,999.3 653.3,1000.3 653.9,1001.5 654.8,1003.1 655.9,1004.5 656.4,1005.1 656.9,1005.7 657.9,1007.1 658.7,1008.2 659.9,1010.4 660.3,1011.3 660.9,1013 661.8,1016 662.9,1020.3 663.3,1022.4 663.9,1025.3 664.9,1031.7 665.9,1040.5 666.4,1045.9 666.9,1051.5 667.9,1066.3 668.9,1082.3 669.5,1093 669.9,1100.5 671,1122.9 671.9,1140.5 672.3,1149.6 672.9,1162.3 673.6,1177.5 674.9,1206 675.3,1215 675.9,1226.5 676.9,1246.5 677.9,1265.6 678.9,1283.1 679.3,1290 679.9,1298.4 680.9,1311.9 681.9,1324.3 682.9,1336.8 683.8,1349.2 684.9,1366.2 685.9,1382.9 687.1,1398.5 687.9,1404.8 688.9,1412 689.9,1418.1 690.9,1423.4 691.9,1427.8 692.8,1431.3 693.9,1434.8 694.9,1437.8 695.9,1440.4 696.9,1442.9 697.9,1445.1 698.9,1447.1 699.9,1449 701,1451 701.9,1452.4 702.9,1454 703.9,1455.5 704.9,1456.9 705.9,1458.2 706.9,1459.4 707.9,1460.6 708.9,1461.8 709.9,1462.9 710.9,1464.1 711.9,1465.2 712.9,1466.3 713.9,1467.3 714.9,1468.4 715.9,1469.4 716.9,1470.4 717.9,1471.3 718.9,1472.3 719.9,1473.2 720.9,1474.2 721.9,1475.1 722.4,1475.6 722.9,1476 723.9,1476.9 724.9,1477.8 725.9,1478.6 726.9,1479.4 727.9,1480.2 728.9,1481 729.9,1481.8 730.9,1482.7 731.9,1483.6 732.9,1484.5 733.8,1485.4 734.9,1486.7 735.9,1488.1 736.9,1489.6 737.9,1491.2 738.9,1492.5 739.9,1493.5 741.2,1494 741.9,1493.9 742.9,1493.5 743.9,1492.7 744.9,1491.6 745.3,1491 745.9,1489.5 746.9,1483 747.8,1472 748.6,1440 749.9,1390 751.1,1335 751.9,1280 752.9,1233.7 753.9,1198.2 754.5,1190.3 754.9,1196.9 756.2,1280 756.9,1329.7 757.8,1398.5 758.9,1443.1 759.5,1464.1 759.9,1475 761.1,1505.1 761.9,1515.5 762.9,1525.8 763.6,1531 764.9,1537.4 765.9,1541 766.7,1542.9 767.9,1544.5 768.9,1545.6 769.9,1546.6 770.9,1547.4 771.9,1548.1 772.9,1548.6 773.9,1549 774.9,1549.4 775.9,1549.7 776.9,1550 777.9,1550.2 778.9,1550.5 779.9,1550.7 780.9,1550.9 781.9,1551.1 782.9,1551.3 783.9,1551.5 784.9,1551.6 785.9,1551.7 786.9,1551.8 787.9,1551.9 788.9,1551.9 789.6,1551.9 790.9,1551.9 791.9,1551.8 792.9,1551.7 793.9,1551.5 794.9,1551.4 795.9,1551.2 796.9,1551 797.9,1550.8 798.9,1550.6 799.9,1550.4 801.1,1550.2 801.9,1550.1 802.9,1549.9 803.9,1549.8 804.9,1549.6 805.9,1549.4 806.9,1549.3 807.9,1549.1 808.9,1548.9 809.9,1548.6 810.9,1548.4 811.9,1548.1 812.6,1547.8 813.9,1547.1 814.9,1546.3 815.9,1545.3 816.9,1544.1 817.9,1542.8 818.9,1541.5 820,1540 820.9,1538.8 821.9,1537.1 822.9,1535.3 823.9,1533.6 824.9,1532.1 825.7,1531 826.8,1529.7 827.8,1528.7 828.8,1527.8 829.8,1527.2 830.7,1527 831.8,1527.4 832.8,1528.2 833.8,1529.3 834.8,1530.5 835.6,1531.4 836.8,1533.3 837.8,1535.2 838.8,1537 839.8,1538.5 840.5,1539 841.8,1539.6 842.8,1539.9 843.8,1540.1 844.8,1540.3 845.8,1540.6 847.1,1541 847.8,1541.3 848.8,1541.9 849.8,1542.6 850.8,1543.3 851.8,1544 852.8,1544.6 853.6,1545 854.8,1545.6 855.8,1546.1 856.8,1546.6 857.8,1547 858.8,1547.3 859.8,1547.5 860.2,1547.5 860.8,1547.5 861.8,1547.6 862.8,1547.6 863.8,1547.6 864.8,1547.7 865.8,1547.7 866.8,1547.7 867.8,1547.8 868.8,1547.8 869.8,1547.8 870.8,1547.8 871.8,1547.8 872.8,1547.9 873.8,1547.9 874.8,1547.9 875.8,1547.9 876.8,1547.9 877.8,1547.9 878.8,1547.9 879.8,1548 880.8,1548 881.8,1548 882.8,1548 883.8,1548 884.8,1548 885.8,1548 886.8,1548 887.8,1548 888.8,1548 889.7,1548 890.8,1548 891.8,1548 892.8,1547.9 893.8,1547.9 894.8,1547.9 895.8,1547.8 896.8,1547.7 897.8,1547.6 898.8,1547.6 899.8,1547.5 900.8,1547.4 901.8,1547.2 902.8,1547.1 903.8,1547 904.8,1546.9 905.8,1546.7 906.8,1546.6 907.8,1546.4 908.8,1546.3 909.8,1546.1 910.8,1545.9 911.8,1545.8 912.8,1545.6 913.8,1545.4 914.4,1545.3 914.8,1545.2 915.8,1545 916.8,1544.7 917.8,1544.3 918.8,1543.9 919.8,1543.4 920.8,1542.9 921.8,1542.4 922.8,1541.9 923.8,1541.4 924.8,1540.8 925.8,1540.3 926.8,1539.8 927.8,1539.2 928.8,1538.8 929.8,1538.3 930.8,1537.9 931.8,1537.5 932.8,1537 933.8,1536.6 934.8,1536.1 935.8,1535.7 936.8,1535.3 937.8,1534.9 938.8,1534.5 939.8,1534.2 940.8,1534 941.8,1533.8 942.2,1533.8 942.8,1533.7 943.8,1533.7 944.8,1533.6 945.8,1533.5 946.8,1533.5 947.8,1533.4 948.8,1533.4 949.8,1533.3 950.8,1533.3 952.1,1533.3 952.8,1533.3 953.8,1533.4 954.8,1533.6 955.8,1533.8 956.8,1534.1 957.8,1534.4 958.8,1534.7 959.8,1535.1 960.8,1535.4 961.8,1535.8 962.8,1536.1 963.6,1536.3 964.8,1536.6 965.8,1536.9 966.8,1537.2 967.8,1537.5 968.8,1537.8 969.8,1538.1 970.8,1538.4 971.8,1538.7 972.8,1539 973.8,1539.3 974.8,1539.6 975.8,1539.9 976.8,1540.2 977.8,1540.4 978.8,1540.7 980,1541 980.8,1541.2 981.8,1541.5 982.8,1541.7 983.8,1542 984.8,1542.3 985.8,1542.5 986.8,1542.8 987.8,1543.1 988.8,1543.3 989.8,1543.6 990.8,1543.8 991.8,1544 992.8,1544.3 993.8,1544.5 994.8,1544.7 995.8,1544.9 996.8,1545.1 997.8,1545.2 998.8,1545.4 1000,1545.5 1000.8,1545.6 1001.8,1545.7 1002.8,1545.8 1003.8,1545.9 1004.8,1546 1005.8,1546.1 1006.8,1546.2 1007.8,1546.2 1008.8,1546.3 1009.8,1546.4 1010.8,1546.5 1011.8,1546.5 1012.8,1546.6 1013.8,1546.7 1014.8,1546.7 1015.8,1546.8 1016.8,1546.8 1017.8,1546.9 1018.8,1546.9 1020,1547 1020.8,1547 1021.8,1547.1 1022.8,1547.1 1023.8,1547.2 1024.8,1547.2 1025.8,1547.3 1026.8,1547.3 1027.8,1547.3 1028.8,1547.4 1029.8,1547.4 1030.8,1547.5 1031.8,1547.5 1032.8,1547.5 1033.8,1547.6 1034.8,1547.6 1035.8,1547.6 1036.8,1547.7 1037.8,1547.7 1038.8,1547.7 1039.8,1547.8 1040.8,1547.8 1041.8,1547.8 1042.8,1547.8 1043.8,1547.9 1044.8,1547.9 1045.8,1547.9 1046.8,1547.9 1047.8,1548 1048.8,1548 1050,1548 1050.8,1548 1051.8,1548 1052.8,1548.1 1053.8,1548.1 1054.8,1548.1 1055.8,1548.1 1056.8,1548.1 1057.8,1548.1 1058.8,1548.2 1059.8,1548.2 1060.8,1548.2 1061.8,1548.2 1062.8,1548.2 1063.8,1548.2 1064.8,1548.2 1065.8,1548.3 1066.8,1548.3 1067.8,1548.3 1068.8,1548.3 1069.8,1548.3 1070.8,1548.3 1071.8,1548.3 1072.8,1548.3 1073.8,1548.4 1074.8,1548.4 1075.8,1548.4 1076.8,1548.4 1077.8,1548.4 1078.8,1548.4 1079.8,1548.4 1080.8,1548.4 1081.8,1548.5 1082.8,1548.5 1083.8,1548.5 1085,1548.5 1085.8,1548.5 1086.8,1548.5 1087.8,1548.6 1088.8,1548.6 1089.8,1548.6 1090.8,1548.6 1091.7,1548.6 1092.8,1548.5 1093.8,1548.3 1094.8,1548 1095.8,1547.8 1096.8,1547.5 1097.8,1547.3 1098.9,1547.2 1099.8,1547.3 1100.8,1547.4 1101.8,1547.7 1102.8,1548.1 1103.8,1548.6 1104.8,1549 1105.8,1549.5 1106.8,1550 1107.8,1550.5 1108.8,1550.9 1109.8,1551.2 1110.8,1551.5 1111.8,1551.6 1112.2,1551.6 1112.8,1551.6 1113.8,1551.4 1114.8,1551.2 1115.8,1550.8 1116.8,1550.4 1117.8,1549.9 1118.8,1549.4 1119.8,1548.9 1120.8,1548.5 1121.8,1548 1122.8,1547.7 1123.8,1547.4 1124.8,1547.2 1125.5,1547.2 1126.8,1547.4 1127.8,1547.9 1128.8,1548.5 1129.8,1549.2 1130.8,1549.9 1131.8,1550.7 1132.8,1551.4 1133.8,1552 1134.8,1552.4 1136,1552.6 1136.8,1551.4 1138,1549 1138.8,1548.7 1139.8,1548.4 1140.8,1548.1 1141.8,1547.9 1142.8,1547.7 1143.8,1547.6 1144.8,1547.5 1146,1547.5 1146.8,1547.5 1147.8,1547.5 1148.8,1547.5 1149.8,1547.5 1150.8,1547.5 1151.8,1547.5 1152.8,1547.5 1153.8,1547.5 1154.4,1547.5 1154.8,1547.5 1155.8,1547.5 1156.8,1547.5 1157.8,1547.6 1158.8,1547.6 1159.8,1547.7 1160.8,1547.8 1161.8,1547.9 1162.8,1547.9 1163.8,1548 1164.8,1548.1 1165.8,1548.2 1166.8,1548.3 1167.8,1548.4 1168.8,1548.4 1169.8,1548.5 1170.8,1548.5 1171.8,1548.6 1172.8,1548.6 1173.7,1548.6 1174.8,1548.6 1175.8,1548.4 1176.8,1548.3 1177.8,1548 1178.8,1547.8 1179.8,1547.5 1180.8,1547.2 1181.8,1546.9 1182.8,1546.6 1183.8,1546.3 1184.8,1546.1 1185.8,1545.9 1186.8,1545.8 1187.8,1545.7 1188.2,1545.7 1188.8,1545.7 1189.8,1545.8 1190.8,1545.9 1191.8,1546.1 1192.8,1546.3 1193.8,1546.5 1194.8,1546.8 1195.8,1547.1 1196.8,1547.4 1197.8,1547.8 1198.8,1548.1 1199.8,1548.4 1200.3,1548.6 1200.8,1548.8 1201.8,1549.3 1202.8,1550 1203.8,1550.6 1204.8,1551.3 1205.8,1551.8 1206.8,1552.1 1207.5,1552.2 1208.8,1551.8 1209.8,1551.1 1210.8,1550.4 1211.8,1549.9 1212.4,1549.8 1212.8,1549.8 1213.8,1550 1214.8,1550.3 1215.8,1550.6 1216.8,1551.1 1217.8,1551.5 1218.8,1552 1219.8,1552.4 1220.8,1552.7 1222,1552.9 1222.8,1553 1223.8,1553 1224.8,1553.1 1225.8,1553.2 1226.8,1553.2 1227.8,1553.3 1228.8,1553.3 1229.8,1553.3 1230.8,1553.4 1231.8,1553.4 1232.8,1553.4 1234.1,1553.4 1234.8,1553.4 1235.8,1553.4 1236.8,1553.4 1237.8,1553.3 1238.8,1553.3 1239.8,1553.2 1240.8,1553.2 1241.8,1553.1 1242.8,1553 1243.8,1552.9 1244.8,1552.9 1245.8,1552.8 1246.8,1552.7 1247.8,1552.7 1248.8,1552.6 1249.8,1552.6 1250.8,1552.5 1251.8,1552.5 1252.8,1552.5 1253.4,1552.5 1253.8,1552.5 1254.8,1552.5 1255.8,1552.5 1256.8,1552.5 1257.8,1552.5 1258.8,1552.6 1259.8,1552.6 1260.8,1552.6 1261.8,1552.6 1262.8,1552.7 1263.8,1552.7 1264.8,1552.7 1265.8,1552.7 1266.8,1552.8 1267.8,1552.8 1268.8,1552.8 1269.8,1552.9 1270.8,1552.9 1271.8,1553 1272.8,1553 1273.8,1553 1274.8,1553.1 1275.8,1553.1 1276.8,1553.1 1277.8,1553.2 1278.8,1553.2 1279.8,1553.2 1280.8,1553.3 1281.8,1553.3 1282.8,1553.3 1283.8,1553.3 1284.8,1553.4 1285.8,1553.4 1286.8,1553.4 1287.8,1553.4 1288.8,1553.4 1289.6,1553.4 1290.8,1553.4 1291.8,1553.4 1292.8,1553.4 1293.8,1553.4 1294.8,1553.4 1295.8,1553.4 1296.8,1553.4 1297.8,1553.4 1298.8,1553.4 1299.8,1553.4 1300.8,1553.4 1301.8,1553.4 1302.8,1553.4 1303.8,1553.4 1304.8,1553.4 1305.8,1553.4 1306.8,1553.4 1307.8,1553.4 1308.8,1553.4 1309.8,1553.4 1310.8,1553.4 1311.8,1553.4 1312.8,1553.4 1313.8,1553.4 1314.8,1553.4 1315.8,1553.4 1316.8,1553.4 1317.8,1553.4 1318.8,1553.4 1319.8,1553.4 1320.8,1553.4 1321.8,1553.4 1322.8,1553.4 1323.8,1553.4 1324.8,1553.4 1325.8,1553.4 1326.8,1553.4 1327.8,1553.4 1328.8,1553.4 1329.8,1553.4 1330.8,1553.4 1331.8,1553.4 1332.8,1553.4 1333.8,1553.4 1334.8,1553.4 1335.8,1553.4 1336.8,1553.4 1337.8,1553.4 1338.8,1553.4 1339.8,1553.4 1340.8,1553.4 1341.8,1553.4 1342.8,1553.4 1343.8,1553.5 1344.8,1553.5 1345.8,1553.5 1346.8,1553.5 1347.8,1553.5 1348.8,1553.6 1349.8,1553.6 1350.8,1553.6 1351.8,1553.6 1352.8,1553.7 1353.8,1553.7 1354.8,1553.7 1355.8,1553.8 1356.8,1553.8 1357.8,1553.8 1358.8,1553.9 1359.8,1553.9 1360.8,1554 1361.8,1554 1362.8,1554 1363.8,1554.1 1364.8,1554.1 1365.8,1554.1 1366.8,1554.2 1367.8,1554.2 1368.8,1554.2 1369.8,1554.3 1370.8,1554.3 1371.8,1554.3 1372.8,1554.4 1373.8,1554.4 1374.8,1554.4 1375.8,1554.5 1376.8,1554.5 1377.8,1554.5 1378.8,1554.5 1379.8,1554.5 1380.8,1554.6 1381.8,1554.6 1382.8,1554.6 1383.8,1554.6 1384.8,1554.6 1386.1,1554.6 1386.8,1554.6 1387.8,1554.6 1388.8,1554.6 1389.8,1554.6 1390.8,1554.6 1391.8,1554.5 1392.8,1554.5 1393.8,1554.5 1394.8,1554.5 1395.8,1554.4 1396.8,1554.4 1397.8,1554.4 1398.8,1554.4 1399.8,1554.3 1400.8,1554.3 1401.8,1554.2 1402.8,1554.2 1403.8,1554.2 1404.8,1554.1 1405.8,1554.1 1406.8,1554 1407.8,1554 1408.8,1553.9 1409.8,1553.9 1410.8,1553.8 1411.8,1553.8 1412.8,1553.7 1413.8,1553.7 1414.8,1553.6 1415.8,1553.6 1416.8,1553.5 1417.8,1553.5 1418.8,1553.4 1419.8,1553.4 1420.8,1553.4 1421.8,1553.3 1422.8,1553.3 1423.8,1553.2 1424.8,1553.2 1425.8,1553.1 1426.8,1553.1 1427.8,1553.1 1428.8,1553 1429.8,1553 1430.8,1553 1431.8,1553 1432.8,1552.9 1433.8,1552.9 1434.4,1552.9 1434.8,1552.9 1435.8,1552.9 1436.8,1552.9 1437.8,1552.8 1438.8,1552.8 1439.8,1552.8 1440.8,1552.8 1441.8,1552.8 1442.8,1552.8 1443.8,1552.8 1444.8,1552.8 1445.8,1552.7 1446.8,1552.7 1447.8,1552.7 1448.8,1552.7 1449.8,1552.7 1450.8,1552.7 1451.8,1552.7 1452.8,1552.7 1453.8,1552.7 1454.8,1552.7 1455.8,1552.6 1456.8,1552.6 1457.8,1552.6 1458.8,1552.6 1459.8,1552.6 1460.8,1552.6 1461.8,1552.6 1462.8,1552.6 1463.8,1552.6 1464.8,1552.6 1465.8,1552.6 1466.8,1552.6 1467.8,1552.5 1468.8,1552.5 1469.8,1552.5 1470.8,1552.5 1471.8,1552.5 1472.8,1552.5 1473.8,1552.5 1474.8,1552.5 1475.8,1552.5 1476.8,1552.5 1477.8,1552.5 1478.8,1552.5 1479.8,1552.4 1480.8,1552.4 1481.8,1552.4 1482.8,1552.4 1483.8,1552.4 1484.8,1552.4 1485.8,1552.4 1486.8,1552.4 1487.8,1552.3 1488.8,1552.3 1489.8,1552.3 1490.8,1552.3 1491.8,1552.3 1492.8,1552.3 1493.8,1552.3 1494.8,1552.2 1495.8,1552.2 1496.5,1552.2 1497.8,1552.2 1498.8,1552.1 1499.8,1552.1 1500.8,1552.1 1501.8,1552 1502.8,1552 1503.8,1551.9 1504.8,1551.9 1505.8,1551.8 1506.8,1551.7 1507.8,1551.7 1508.8,1551.6 1509.8,1551.5 1510.8,1551.5 1511.8,1551.4 1512.8,1551.3 1513.8,1551.2 1514.8,1551.2 1515.8,1551.1 1516.8,1551 1517.8,1550.9 1518.8,1550.9 1519.8,1550.8 1520.8,1550.7 1521.8,1550.6 1522.8,1550.6 1523.8,1550.5 1524.8,1550.4 1525.8,1550.3 1526.8,1550.3 1527.8,1550.2 1528.8,1550.2 1529.8,1550.1 1530.8,1550 1531.8,1550 1532.8,1550 1533.8,1549.9 1534.8,1549.9 1535.8,1549.9 1536.8,1549.8 1537.8,1549.8 1538.8,1549.8 1540,1549.8 1540.8,1549.8 1541.8,1549.9 1542.8,1550.1 1543.8,1550.3 1544.8,1550.6 1545.8,1550.9 1546.8,1551.2 1547.8,1551.5 1548.8,1551.8 1549.8,1552.1 1550.8,1552.4 1551.8,1552.6 1552.8,1552.8 1553.8,1552.9 1554.4,1552.9 1554.8,1552.9 1555.8,1552.9 1556.8,1552.8 1557.8,1552.7 1558.8,1552.5 1559.8,1552.3 1560.8,1552.1 1561.8,1551.9 1562.8,1551.6 1563.8,1551.3 1564.8,1551.1 1565.8,1550.8 1566.8,1550.5 1567.8,1550.1 1568.9,1549.8 1569.8,1549.5 1570.8,1549 1571.8,1548.5 1572.8,1547.8 1573.8,1547.1 1574.8,1546.5 1575.8,1545.8 1576.8,1545.2 1577.8,1544.7 1578.8,1544.2 1579.8,1543.9 1581,1543.8 1581.8,1543.9 1582.8,1544.5 1583.8,1545.3 1584.8,1546.3 1585.8,1547.4 1586.8,1548.4 1587.8,1549.2 1588.8,1549.7 1589.4,1549.8 1589.8,1549.8 1590.8,1549.6 1591.8,1549.1 1592.8,1548.5 1593.8,1547.7 1594.8,1546.8 1595.8,1545.8 1596.5,1545 1597.8,1543.3 1598.8,1541.4 1599.8,1539.1 1600.8,1536.5 1601.3,1535 1601.8,1533.7 1602.8,1530.3 1603.8,1525.9 1604.6,1521 1605.8,1509.1 1606.8,1494 1607.8,1475.1 1608.7,1458 1609.8,1446.4 1611,1439.5 1611.8,1442.5 1612.8,1452.2 1613.3,1458 1613.8,1463 1614.8,1476.3 1616,1494 1616.8,1505.1 1618,1521 1618.8,1526.7 1619.8,1533 1620.8,1537.6 1621.2,1539 1621.8,1540.5 1622.8,1542.8 1623.8,1544.6 1624.8,1546.1 1626,1547.5 1626.8,1548.2 1627.8,1549 1628.8,1549.7 1629.8,1550.3 1630.7,1550.8 1631.7,1551 1632.7,1551.2 1633.7,1551.3 1634.7,1551.4 1635.7,1551.5 1636.7,1551.6 1637.7,1551.7 1638.7,1551.8 1639.7,1551.9 1640.7,1552 1641.7,1552.1 1642.7,1552.2 1643.7,1552.2 1644.7,1552.3 1645.7,1552.3 1646.7,1552.4 1647.7,1552.4 1648.7,1552.4 1649.7,1552.5 1650.7,1552.5 1651.7,1552.5 1652.7,1552.5 1653.4,1552.5 1654.7,1552.5 1655.7,1552.5 1656.7,1552.5 1657.7,1552.5 1658.7,1552.5 1659.7,1552.5 1660.7,1552.5 1661.7,1552.5 1662.7,1552.4 1663.7,1552.4 1664.7,1552.4 1665.7,1552.4 1666.7,1552.4 1667.7,1552.4 1668.7,1552.4 1669.7,1552.4 1670.7,1552.3 1671.7,1552.3 1672.7,1552.3 1673.7,1552.3 1674.7,1552.3 1675.7,1552.2 1676.7,1552.2 1677.5,1552.2 1678.7,1552.2 1679.7,1552.1 1680.7,1552.1 1681.7,1552 1682.7,1552 1683.7,1551.9 1684.7,1551.8 1685.7,1551.8 1686.7,1551.7 1687.7,1551.6 1688.7,1551.5 1689.7,1551.4 1690.7,1551.3 1691.7,1551.2 1692.7,1551.1 1693.7,1551 1694.7,1550.9 1695.7,1550.8 1696.7,1550.6 1697.7,1550.5 1698.7,1550.4 1699.7,1550.2 1700.7,1550.1 1701.6,1550 1702.7,1549.8 1703.7,1549.7 1704.7,1549.5 1705.7,1549.3 1706.7,1549.1 1707.7,1548.9 1708.7,1548.7 1709.7,1548.5 1710.7,1548.2 1711.7,1548 1712.7,1547.7 1713.7,1547.4 1714.7,1547.2 1715.7,1546.9 1716.7,1546.6 1717.7,1546.3 1718.7,1546 1719.7,1545.8 1720.7,1545.5 1721.7,1545.2 1722.7,1544.9 1723.7,1544.6 1724.7,1544.3 1725.8,1544 1726.7,1543.7 1727.7,1543.4 1728.7,1543.1 1729.7,1542.8 1730.7,1542.5 1731.7,1542.2 1732.7,1541.9 1733.7,1541.6 1734.7,1541.3 1735.7,1541 1736.7,1540.6 1737.7,1540.3 1738.7,1540 1739.7,1539.6 1740.7,1539.3 1741.7,1538.9 1742.7,1538.6 1743.7,1538.2 1744.7,1537.9 1745.7,1537.5 1746.7,1537.2 1747.7,1536.8 1748.7,1536.4 1749.9,1536 1750.7,1535.7 1751.7,1535.3 1752.7,1535 1753.7,1534.6 1754.7,1534.2 1755.7,1533.9 1756.7,1533.5 1757.7,1533.1 1758.7,1532.8 1759.7,1532.4 1760.7,1532 1761.7,1531.6 1762.7,1531.2 1763.7,1530.8 1764.7,1530.4 1765.7,1530 1766.7,1529.5 1767.7,1529.1 1768.7,1528.6 1769.7,1528.2 1770.7,1527.7 1771.7,1527.2 1772.7,1526.7 1774,1526 1774.7,1525.6 1775.7,1525 1776.7,1524.4 1777.7,1523.8 1778.7,1523.2 1779.7,1522.5 1780.7,1521.8 1781.7,1521.1 1782.7,1520.4 1783.7,1519.6 1784.7,1518.8 1785.7,1518 1786.7,1517.2 1787.7,1516.4 1788.7,1515.6 1789.7,1514.7 1790.7,1513.9 1791.7,1513 1792.7,1512.1 1793.7,1511.2 1794.5,1510.5 1795.7,1509.4 1796.7,1508.4 1797.7,1507.4 1798.7,1506.4 1799.7,1505.3 1800.7,1504.2 1801.7,1503.1 1802.7,1501.9 1803.7,1500.6 1804.6,1499.5 1805.7,1497.8 1806.7,1496.1 1807.7,1494.3 1808.7,1492.5 1809.7,1490.9 1810.7,1489.4 1811.1,1489 1811.7,1488.3 1812.7,1487.1 1813.7,1486 1814.7,1485 1815.7,1484.3 1816.9,1484 1817.7,1484.3 1818.7,1485.3 1819.7,1486.6 1820.7,1487.8 1822,1488.5 1822.7,1488.5 1823.7,1488.4 1824.7,1488.3 1825.7,1488.1 1826.7,1488 1827.8,1488 1828.7,1488.8 1829.7,1491.1 1830.7,1494.1 1831.7,1497 1832.7,1499.3 1833.6,1500 1834.7,1499.3 1835.7,1497.8 1836.7,1495.7 1837.7,1493.3 1838.7,1490.7 1839.4,1489 1840.7,1485.1 1841.7,1481.6 1842.7,1477.9 1843.7,1474.4 1844.7,1471.2 1845.2,1470 1845.7,1468.7 1846.7,1466.3 1847.7,1464 1848.7,1461.8 1849.7,1459.8 1850.7,1458.2 1851.7,1457 1852.4,1456.5 1853.7,1455.8 1854.7,1455.3 1855.7,1454.9 1856.7,1454.6 1857.7,1454.4 1858.9,1454.3 1859.7,1454.5 1860.7,1455.1 1861.7,1456.1 1862.7,1457.5 1863.7,1459.1 1864.7,1460.8 1865.4,1462 1866.7,1465.3 1867.7,1468.8 1868.7,1472.8 1869.7,1477 1870.7,1481.1 1871.2,1483 1871.7,1485.1 1872.7,1489.5 1873.7,1494 1874.7,1497.8 1875.6,1500 1876.7,1501.9 1877.7,1503.4 1878.7,1504.5 1879.9,1505 1880.7,1504.6 1881.7,1503.3 1882.7,1501.2 1883.7,1498.5 1884.7,1495.3 1885.7,1492 1886.7,1486.2 1887.7,1477.8 1888.7,1469.2 1890,1462 1890.7,1460.1 1891.7,1457.7 1892.7,1456.1 1893.7,1455.5 1894.7,1456.8 1895.7,1460.3 1896.7,1465.4 1897.3,1469 1897.7,1473.6 1898.7,1492.4 1899.4,1503 1900.7,1514.9 1901.7,1522 1902.7,1526.8 1903.1,1528 1903.7,1529.5 1904.7,1531.5 1905.7,1533.3 1906.7,1534.7 1907.7,1535.9 1908.7,1536.9 1909.7,1537.6 1910.3,1538 1910.7,1538.2 1911.7,1538.8 1912.7,1539.3 1913.7,1539.7 1914.7,1540.1 1915.7,1540.5 1916.7,1540.7 1917.7,1540.9 1919,1541 1919.7,1541 1920.7,1540.9 1921.7,1540.8 1922.7,1540.7 1923.7,1540.5 1924.7,1540.3 1925.7,1540.1 1926.7,1539.8 1927.7,1539.5 1928.7,1539.1 1929.7,1538.4 1930.7,1537.4 1931.7,1536.2 1932.7,1534.8 1933.5,1533.5 1934.7,1529.4 1935.7,1524.4 1936.7,1519.9 1937.1,1518.7 1937.7,1517 1938.7,1514.3 1939.7,1512.3 1940.7,1511.5 1941.7,1512.1 1942.7,1513.8 1943.7,1516.1 1944.7,1519 1945.1,1520.2 1945.7,1523.1 1946.7,1530.3 1948,1537.5 1948.7,1539.1 1949.7,1541.1 1950.7,1542.7 1951.7,1544 1952.7,1544.9 1953.7,1545.5 1954.7,1545.9 1955.7,1546.3 1956.7,1546.6 1957.7,1546.9 1958.7,1547.1 1959.7,1547.3 1960.7,1547.4 1961.7,1547.5 1962.4,1547.5 1963.7,1547.5 1964.7,1547.5 1965.7,1547.5 1966.7,1547.5 1967.7,1547.5 1968.7,1547.5 1969.7,1547.5 1970.7,1547.5 1971.7,1547.5 1972.7,1547.5 1973.7,1547.4 1974.7,1547.4 1975.7,1547.4 1976.7,1547.4 1977.7,1547.4 1978.7,1547.4 1979.7,1547.4 1980.7,1547.4 1981.7,1547.4 1982.7,1547.4 1983.7,1547.4 1984.7,1547.3 1985.7,1547.3 1986.7,1547.3 1987.7,1547.3 1988.7,1547.3 1989.9,1547.3 1990.7,1547.3 1991.7,1547.3 1992.7,1547.3 1993.7,1547.3 1994.7,1547.3 1995.7,1547.3 1996.7,1547.3 1997.7,1547.2 1998.7,1547.2 1999.7,1547.2 2000.7,1547.2 2001.7,1547.2 2002.7,1547.2 2003.7,1547.2 2004.7,1547.2 2005.7,1547.2 2006.7,1547.2 2007.7,1547.2 2008.7,1547.2 2009.7,1547.2 2010.7,1547.2 2011.7,1547.1 2012.7,1547.1 2013.7,1547.1 2014.7,1547.1 2015.7,1547.1 2016.7,1547.1 2017.7,1547.1 2018.7,1547.1 2019.7,1547.1 2020.7,1547.1 2021.7,1547.1 2022.7,1547.1 2023.7,1547.1 2024.7,1547.1 2025.7,1547 2026.7,1547 2027.7,1547 2028.7,1547 2029.7,1547 2030.7,1547 2031.7,1547 2032.7,1547"/>
<polyline stroke="#5C01A6" points="422.9,1476.1 423.9,1487.1 424.9,1495.9 425.5,1499.2 425.9,1500.8 426.9,1504.3 427.9,1506.9 428.9,1508.4 429.3,1508.5 429.9,1508.5 430.9,1508.4 431.9,1508.2 432.9,1507.9 433.9,1507.5 434.9,1507 435.9,1506.4 436.3,1506.2 436.9,1505.6 437.9,1503.8 438.9,1500.9 439.9,1497.3 440.9,1493.1 441.9,1486.6 442.9,1476.9 443.9,1465.3 444.8,1454.4 445.9,1440.5 446.9,1425.8 447.9,1408.1 448.9,1381.1 450.2,1346.3 450.9,1335 451.9,1320.8 452.9,1312.3 453.3,1311.4 453.9,1313.5 454.9,1324.2 455.9,1339 456.4,1346.3 456.9,1353.7 457.9,1371.3 458.9,1389.9 459.5,1400.4 459.9,1407.3 460.9,1425.4 461.8,1435.9 462.9,1441.3 463.9,1444.6 464.9,1445.9 465.9,1445 466.9,1442.7 468,1439 468.9,1433.2 469.9,1422.8 471,1411.2 471.9,1401.8 472.9,1392.2 473.4,1389.6 473.9,1388.3 474.9,1386.6 475.9,1385.4 477.2,1383.4 477.9,1382 478.9,1379.6 479.5,1377.2 479.9,1374.1 480.9,1358.1 481.5,1346.3 481.9,1338.6 482.9,1315.1 483.4,1300 483.9,1278 484.6,1246.2 485.9,1216.6 486.9,1200 488,1184.4 488.9,1172.3 489.6,1165.9 490.9,1159.8 491.9,1156.8 492.7,1156 493.9,1156.4 494.9,1157.1 496,1158 496.9,1158.8 497.9,1159.9 498.9,1160.8 499.6,1161 500.9,1158.5 501.9,1153.6 502.9,1137.5 503.5,1122.7 503.9,1112.1 505,1076.3 505.9,1052.3 506.6,1030 507.9,964.5 508.9,897.6 509.9,825.9 510.9,757 511.9,685.6 512.9,602.8 513.9,519.8 514.9,447.4 515.9,395.9 516.9,376.1 517.9,402.3 518.9,470.5 519.9,562.8 520.9,661.5 522,757 522.9,818.5 523.9,884.8 524.9,953.2 525.9,1030 526.9,1129 527.4,1169 527.9,1192.8 528.9,1231.4 529.9,1261.2 530.9,1288.2 531.3,1300 531.9,1316.6 532.9,1343 533.6,1361.8 534.9,1398.3 535.9,1423.6 536.9,1443.5 538.2,1462.2 538.9,1467.2 539.9,1472.8 540.9,1476.6 541.3,1477.6 541.9,1478.7 542.9,1480.4 543.9,1481.4 544.4,1481.5 544.9,1481.4 545.9,1480.3 546.9,1478.3 547.9,1475.7 548.3,1474.5 548.9,1471.3 549.9,1462.7 550.6,1457.5 551.9,1451 552.9,1446.6 553.9,1444 554.4,1443.6 554.9,1443.8 555.9,1445 556.9,1447.2 557.9,1450.2 559.1,1454.4 559.9,1458.5 560.9,1466.4 562.2,1477.6 562.9,1483.2 563.9,1491.9 564.9,1500.3 566,1508.5 566.9,1514 567.9,1519.9 568.9,1524.9 569.9,1528.6 570.9,1531.3 571.9,1533.6 573,1534.7 573.9,1534.2 574.9,1532.8 575.9,1530.7 576.8,1528.6 577.9,1524.1 579.2,1519.3 579.9,1518.8 580.9,1518.3 582.2,1517.8 582.9,1517.5 583.9,1517.2 584.9,1516.9 586.1,1516.2 586.9,1514.8 587.9,1511.3 588.9,1506.5 590,1500.8 590.9,1496 591.9,1489.7 592.9,1482.7 593.9,1475.3 594.6,1469.9 595.9,1460.2 596.9,1452.3 597.9,1443.8 599.2,1431.3 599.9,1423.9 600.9,1411.7 601.9,1398.4 602.3,1392.7 602.9,1384.5 603.9,1369.3 604.9,1353.9 605.4,1346.3 605.9,1339.3 606.9,1324.8 607.7,1315.4 608.9,1307.9 610,1300 610.9,1285.9 611.9,1261.7 613.2,1230 613.9,1218.4 614.9,1203.6 616.1,1177.5 616.8,1149.6 617.8,1102.5 618.6,1055.9 619.5,1005.6 619.9,979 620.3,953.7 620.9,910.9 621.7,860.6 622.5,795.8 622.9,762.4 623.3,730.9 624.1,666.1 625.1,601.3 625.9,552.5 626.9,516.9 627.5,507.3 627.9,508.5 628.4,512.7 628.9,521.1 629.4,537.5 629.9,558 630.6,601.3 631.7,666.1 632.6,730.9 633.7,795.8 635,860.6 635.6,888.6 636.4,917 636.9,933.6 637.6,961 638.7,990.9 640.1,1019.2 640.9,1030.9 641.6,1041.2 643.2,1060 643.9,1067.7 644.7,1075.8 645.9,1085 646.2,1087.5 646.9,1091.4 647.8,1096.1 648.9,1100.3 649.3,1101.6 649.9,1103.2 650.8,1105.6 651.9,1107.7 652.4,1108.4 652.9,1109 653.9,1109.6 654.9,1109.3 655.4,1109 655.9,1108.9 657,1108.4 657.9,1107.9 658.5,1107.5 658.9,1107.4 660,1107.2 660.9,1107.5 661.6,1107.9 663.1,1111.1 663.9,1113.4 664.9,1117.4 665.9,1123.2 666.4,1126.9 666.9,1130.6 667.9,1140.4 668.7,1149.6 669.9,1160.2 671.1,1177.5 671.8,1215.3 672.9,1239.8 673.9,1254.9 674.9,1267 675.9,1280.6 676.4,1290 676.9,1300.2 677.9,1325.6 678.9,1349.2 679.9,1366.5 680.9,1382.3 682.2,1398.5 682.9,1404.6 683.9,1412.7 684.9,1419.7 685.9,1425.6 687.1,1431.3 687.9,1434.2 688.9,1437.5 689.9,1440.5 690.9,1443.1 691.9,1445.5 692.9,1447.7 693.9,1449.8 694.5,1451 694.9,1451.7 695.9,1453.5 696.9,1455.3 697.9,1456.9 698.9,1458.5 699.9,1459.9 700.9,1461.3 701.9,1462.7 702.9,1463.9 703.9,1465.2 704.3,1465.7 704.9,1466.4 705.9,1467.5 706.9,1468.6 707.9,1469.7 708.9,1470.7 709.9,1471.7 710.9,1472.6 711.9,1473.6 712.9,1474.5 713.9,1475.4 714.9,1476.3 715.8,1477.2 716.9,1478.2 717.9,1479 718.9,1479.9 719.9,1480.7 720.9,1481.6 721.9,1482.4 722.9,1483.2 723.9,1484.1 724.9,1484.9 725.9,1485.8 726.9,1486.7 727.3,1487.1 727.9,1487.6 728.9,1488.6 729.9,1489.6 730.9,1490.6 731.9,1491.6 732.9,1492.6 733.9,1493.6 734.9,1494.7 735.5,1495.3 735.9,1495.7 736.9,1496.9 737.9,1498.2 738.9,1499.5 739.9,1500.4 741.2,1501 741.9,1500.9 742.9,1500.6 743.9,1500 744.9,1499.1 745.3,1498.6 745.9,1497.3 746.9,1491.1 747.8,1480.5 748.6,1447.7 749.9,1398.5 751.1,1349.2 751.9,1300 752.9,1260.2 753.9,1229.9 754.5,1223.3 754.9,1230.7 756,1300 756.9,1354.8 757.6,1398.5 758.9,1449.7 759.3,1464.1 759.9,1481 760.9,1505.1 761.9,1517.7 762.9,1526.9 763.4,1529.7 763.9,1531.3 764.9,1534.1 765.9,1536.3 766.9,1537.9 767.9,1539.2 768.3,1539.6 768.9,1540.1 769.9,1541 770.9,1541.8 771.9,1542.5 772.9,1543.1 773.9,1543.7 774.9,1544.2 775.9,1544.6 776.9,1544.9 778.2,1545.3 778.9,1545.5 779.9,1545.7 780.9,1545.9 781.9,1546.1 782.9,1546.3 783.9,1546.5 784.9,1546.6 785.9,1546.8 786.9,1546.9 787.9,1546.9 788.9,1547 789.6,1547 790.9,1547 791.9,1546.9 792.9,1546.8 793.9,1546.7 794.9,1546.6 795.9,1546.5 796.9,1546.4 797.9,1546.2 798.9,1546.1 799.9,1545.9 801.1,1545.8 801.9,1545.7 802.9,1545.6 803.9,1545.5 804.9,1545.5 805.9,1545.4 806.9,1545.3 807.9,1545.2 808.9,1545.1 809.9,1545 810.9,1544.8 811.9,1544.6 812.6,1544.5 813.9,1544 814.9,1543.3 815.9,1542.5 816.9,1541.5 817.9,1540.4 818.9,1539.2 820,1537.9 820.9,1536.8 821.9,1535.4 822.9,1533.7 823.9,1532.2 824.9,1530.7 825.7,1529.7 826.8,1528.4 827.8,1527.4 828.8,1526.4 829.8,1525.8 830.7,1525.6 831.8,1526.1 832.8,1527.2 833.8,1528.6 834.8,1530.2 835.6,1531.4 836.8,1533.9 837.8,1536.3 838.8,1538.7 839.8,1540.5 840.5,1541.2 841.8,1541.9 842.8,1542.3 843.8,1542.6 844.8,1542.9 845.8,1543.2 847.1,1543.7 847.8,1544 848.8,1544.5 849.8,1545.1 850.8,1545.6 851.8,1546.2 852.8,1546.7 853.6,1547 854.8,1547.6 855.8,1548.1 856.8,1548.5 857.8,1548.9 858.8,1549.2 859.8,1549.4 860.2,1549.4 860.8,1549.4 861.8,1549.4 862.8,1549.4 863.8,1549.4 864.8,1549.4 865.8,1549.4 866.8,1549.3 867.8,1549.3 868.8,1549.3 869.8,1549.3 870.8,1549.3 871.8,1549.2 872.8,1549.2 873.8,1549.2 874.8,1549.1 875.8,1549.1 876.8,1549.1 877.8,1549 878.8,1549 879.8,1549 880.8,1548.9 881.8,1548.9 882.8,1548.9 883.8,1548.8 884.8,1548.8 885.8,1548.8 886.8,1548.7 887.8,1548.7 888.8,1548.6 889.7,1548.6 890.8,1548.6 891.8,1548.5 892.8,1548.5 893.8,1548.4 894.8,1548.4 895.8,1548.3 896.8,1548.3 897.8,1548.2 898.8,1548.2 899.8,1548.1 900.8,1548 901.8,1548 902.8,1547.9 903.8,1547.9 904.8,1547.8 905.8,1547.7 906.8,1547.6 907.8,1547.6 908.8,1547.5 909.8,1547.4 910.8,1547.3 911.8,1547.2 912.8,1547.1 913.8,1547.1 914.4,1547 914.8,1547 915.8,1546.8 916.8,1546.7 917.8,1546.6 918.8,1546.4 919.8,1546.2 920.8,1546 921.8,1545.9 922.8,1545.7 923.8,1545.5 924.8,1545.3 925.8,1545.1 926.8,1545 927.8,1544.8 928.8,1544.7 929.8,1544.6 930.8,1544.5 931.8,1544.4 932.8,1544.4 933.8,1544.3 934.8,1544.2 935.8,1544.1 936.8,1544.1 937.8,1544 938.8,1544 939.8,1543.9 940.8,1543.9 941.8,1543.8 942.8,1543.8 943.8,1543.7 944.8,1543.7 945.8,1543.7 946.8,1543.7 947.2,1543.7 947.8,1543.7 948.8,1543.7 949.8,1543.8 950.8,1543.8 951.8,1543.9 952.8,1544 953.8,1544.1 954.8,1544.2 955.8,1544.3 956.8,1544.4 957.8,1544.6 958.8,1544.7 959.8,1544.8 960.8,1545 961.8,1545.1 962.8,1545.2 963.6,1545.3 964.8,1545.5 965.8,1545.6 966.8,1545.7 967.8,1545.9 968.8,1546.1 969.8,1546.2 970.8,1546.4 971.8,1546.6 972.8,1546.8 973.8,1546.9 974.8,1547.1 975.8,1547.2 976.8,1547.4 977.8,1547.5 978.8,1547.7 980,1547.8 980.8,1547.9 981.8,1548 982.8,1548.1 983.8,1548.2 984.8,1548.3 985.8,1548.4 986.8,1548.5 987.8,1548.7 988.8,1548.8 989.8,1548.8 990.8,1548.9 991.8,1549 992.8,1549.1 993.8,1549.2 994.8,1549.2 995.8,1549.3 996.8,1549.3 997.8,1549.4 998.8,1549.4 1000,1549.4 1000.8,1549.4 1001.8,1549.4 1002.8,1549.4 1003.8,1549.4 1004.8,1549.4 1005.8,1549.4 1006.8,1549.4 1007.8,1549.4 1008.8,1549.4 1009.8,1549.4 1010.8,1549.4 1011.8,1549.4 1012.8,1549.4 1013.8,1549.3 1014.8,1549.3 1015.8,1549.3 1016.8,1549.3 1017.8,1549.3 1018.8,1549.3 1019.8,1549.3 1020.8,1549.3 1021.8,1549.3 1022.8,1549.3 1023.8,1549.3 1024.8,1549.3 1025.8,1549.2 1026.8,1549.2 1027.8,1549.2 1028.8,1549.2 1029.8,1549.2 1030.8,1549.2 1031.8,1549.2 1032.8,1549.2 1033.8,1549.2 1034.8,1549.2 1035.8,1549.1 1036.8,1549.1 1037.8,1549.1 1038.8,1549.1 1039.8,1549.1 1040.8,1549.1 1041.8,1549.1 1042.8,1549.1 1043.8,1549.1 1044.8,1549 1045.8,1549 1046.8,1549 1047.8,1549 1048.8,1549 1050,1549 1050.8,1549 1051.8,1549 1052.8,1549 1053.8,1549 1054.8,1549 1055.8,1549 1056.8,1549 1057.8,1548.9 1058.8,1548.9 1059.8,1548.9 1060.8,1548.9 1061.8,1548.9 1062.8,1548.9 1063.8,1548.9 1064.8,1548.9 1065.8,1548.9 1066.8,1548.9 1067.8,1548.9 1068.8,1548.9 1069.8,1548.9 1070.8,1548.9 1071.8,1548.9 1072.8,1548.9 1073.8,1548.9 1074.8,1548.8 1075.8,1548.8 1076.8,1548.8 1077.8,1548.8 1078.8,1548.8 1079.8,1548.8 1080.8,1548.8 1081.8,1548.8 1082.8,1548.8 1083.8,1548.7 1084.8,1548.7 1085.8,1548.7 1086.8,1548.7 1087.8,1548.7 1088.8,1548.7 1089.8,1548.6 1090.8,1548.6 1091.7,1548.6 1092.8,1548.5 1093.8,1548.3 1094.8,1548 1095.8,1547.7 1096.8,1547.5 1097.8,1547.3 1098.9,1547.2 1099.8,1547.3 1100.8,1547.4 1101.8,1547.7 1102.8,1548.1 1103.8,1548.6 1104.8,1549 1105.8,1549.5 1106.8,1550 1107.8,1550.5 1108.8,1550.9 1109.8,1551.2 1110.8,1551.5 1111.8,1551.6 1112.2,1551.6 1112.8,1551.6 1113.8,1551.4 1114.8,1551.2 1115.8,1550.8 1116.8,1550.4 1117.8,1549.9 1118.8,1549.4 1119.8,1548.9 1120.8,1548.5 1121.8,1548 1122.8,1547.7 1123.8,1547.4 1124.8,1547.2 1125.5,1547.2 1126.8,1547.4 1127.8,1547.9 1128.8,1548.5 1129.8,1549.2 1130.8,1549.9 1131.8,1550.7 1132.8,1551.4 1133.8,1552 1134.8,1552.4 1136,1552.6 1136.8,1552.6 1137.8,1552.6 1138.8,1552.5 1139.8,1552.5 1140.8,1552.4 1141.8,1552.3 1142.8,1552.2 1143.8,1552.1 1144.8,1552 1145.8,1551.8 1146.8,1551.5 1147.8,1551.2 1148.8,1550.8 1149.8,1550.3 1150.8,1549.9 1151.8,1549.5 1152.8,1549.2 1153.8,1549.1 1154.4,1549 1154.8,1549 1155.8,1548.9 1156.8,1548.9 1157.8,1548.9 1158.8,1548.9 1159.8,1548.8 1160.8,1548.8 1161.8,1548.8 1162.8,1548.8 1163.8,1548.8 1164.8,1548.8 1165.8,1548.8 1166.8,1548.8 1167.8,1548.7 1168.8,1548.7 1169.8,1548.7 1170.8,1548.7 1171.8,1548.7 1172.8,1548.6 1173.7,1548.6 1174.8,1548.5 1175.8,1548.4 1176.8,1548.2 1177.8,1548 1178.8,1547.7 1179.8,1547.4 1180.8,1547.1 1181.8,1546.8 1182.8,1546.6 1183.8,1546.3 1184.8,1546.1 1185.8,1545.9 1186.8,1545.8 1187.8,1545.7 1188.2,1545.7 1188.8,1545.7 1189.8,1545.8 1190.8,1545.9 1191.8,1546.1 1192.8,1546.3 1193.8,1546.5 1194.8,1546.8 1195.8,1547.1 1196.8,1547.4 1197.8,1547.8 1198.8,1548.1 1199.8,1548.4 1200.3,1548.6 1200.8,1548.8 1201.8,1549.3 1202.8,1550 1203.8,1550.6 1204.8,1551.3 1205.8,1551.8 1206.8,1552.1 1207.5,1552.2 1208.8,1551.8 1209.8,1551.1 1210.8,1550.4 1211.8,1549.9 1212.4,1549.8 1212.8,1549.8 1213.8,1550 1214.8,1550.3 1215.8,1550.6 1216.8,1551.1 1217.8,1551.5 1218.8,1552 1219.8,1552.4 1220.8,1552.7 1222,1552.9 1222.8,1553 1223.8,1553 1224.8,1553.1 1225.8,1553.2 1226.8,1553.2 1227.8,1553.3 1228.8,1553.3 1229.8,1553.3 1230.8,1553.4 1231.8,1553.4 1232.8,1553.4 1234.1,1553.4 1234.8,1553.4 1235.8,1553.4 1236.8,1553.3 1237.8,1553.2 1238.8,1553.1 1239.8,1553 1240.8,1552.9 1241.8,1552.7 1242.8,1552.5 1243.8,1552.4 1244.8,1552.2 1245.8,1552 1246.8,1551.9 1247.8,1551.7 1248.8,1551.5 1249.8,1551.4 1250.8,1551.3 1251.8,1551.2 1252.8,1551.1 1253.4,1551 1253.8,1551 1254.8,1550.9 1255.8,1550.8 1256.8,1550.8 1257.8,1550.7 1258.8,1550.6 1259.8,1550.5 1260.8,1550.5 1261.8,1550.4 1262.8,1550.4 1263.8,1550.3 1264.8,1550.2 1265.8,1550.2 1266.8,1550.1 1267.8,1550.1 1268.8,1550 1269.8,1550 1270.8,1549.9 1271.8,1549.9 1272.8,1549.8 1273.8,1549.8 1274.8,1549.7 1275.8,1549.7 1276.8,1549.6 1277.8,1549.6 1278.8,1549.6 1279.8,1549.5 1280.8,1549.5 1281.8,1549.4 1282.8,1549.4 1283.8,1549.3 1284.8,1549.3 1285.8,1549.3 1286.8,1549.2 1287.8,1549.2 1288.8,1549.1 1289.6,1549.1 1290.8,1549 1291.8,1549 1292.8,1549 1293.8,1548.9 1294.8,1548.9 1295.8,1548.9 1296.8,1548.8 1297.8,1548.8 1298.8,1548.7 1299.8,1548.7 1300.8,1548.7 1301.8,1548.6 1302.8,1548.6 1303.8,1548.6 1304.8,1548.5 1305.8,1548.5 1306.8,1548.5 1307.8,1548.4 1308.8,1548.4 1309.8,1548.4 1310.8,1548.3 1311.8,1548.3 1312.8,1548.3 1313.8,1548.2 1314.8,1548.2 1315.8,1548.2 1316.8,1548.1 1317.8,1548.1 1318.8,1548.1 1319.8,1548 1320.8,1548 1321.8,1548 1322.8,1547.9 1323.8,1547.9 1324.8,1547.9 1325.8,1547.8 1326.8,1547.8 1327.8,1547.8 1328.8,1547.7 1329.8,1547.7 1330.8,1547.7 1331.8,1547.6 1332.8,1547.6 1333.8,1547.6 1334.8,1547.5 1335.8,1547.5 1336.8,1547.4 1337.8,1547.4 1338.8,1547.4 1339.8,1547.3 1340.8,1547.3 1341.8,1547.2 1342.8,1547.2 1343.8,1547.1 1344.8,1547.1 1345.8,1547.1 1346.8,1547 1347.8,1547 1348.8,1546.9 1349.8,1546.9 1350.8,1546.8 1351.8,1546.8 1352.8,1546.7 1353.8,1546.7 1354.8,1546.6 1355.8,1546.6 1356.8,1546.5 1357.8,1546.5 1358.8,1546.5 1359.8,1546.4 1360.8,1546.4 1361.8,1546.3 1362.8,1546.3 1363.8,1546.2 1364.8,1546.2 1365.8,1546.1 1366.8,1546 1367.8,1546 1368.8,1545.9 1369.8,1545.9 1370.8,1545.8 1371.8,1545.8 1372.8,1545.7 1373.8,1545.7 1374.8,1545.6 1375.8,1545.6 1376.8,1545.5 1377.8,1545.5 1378.8,1545.4 1379.8,1545.4 1380.8,1545.3 1381.8,1545.2 1382.8,1545.2 1383.8,1545.1 1384.8,1545.1 1386.1,1545 1386.8,1545 1387.8,1544.9 1388.8,1544.8 1389.8,1544.8 1390.8,1544.7 1391.8,1544.7 1392.8,1544.6 1393.8,1544.5 1394.8,1544.5 1395.8,1544.4 1396.8,1544.3 1397.8,1544.3 1398.8,1544.2 1399.8,1544.1 1400.8,1544.1 1401.8,1544 1402.8,1543.9 1403.8,1543.8 1404.8,1543.8 1405.8,1543.7 1406.8,1543.6 1407.8,1543.6 1408.8,1543.5 1409.8,1543.4 1410.8,1543.3 1411.8,1543.3 1412.8,1543.2 1413.8,1543.1 1414.8,1543.1 1415.8,1543 1416.8,1542.9 1417.8,1542.8 1418.8,1542.8 1419.8,1542.7 1420.8,1542.6 1421.8,1542.6 1422.8,1542.5 1423.8,1542.4 1424.8,1542.4 1425.8,1542.3 1426.8,1542.2 1427.8,1542.2 1428.8,1542.1 1429.8,1542.1 1430.8,1542 1431.8,1541.9 1432.8,1541.9 1433.8,1541.8 1434.4,1541.8 1434.8,1541.8 1435.8,1541.7 1436.8,1541.7 1437.8,1541.6 1438.8,1541.6 1439.8,1541.5 1440.8,1541.5 1441.8,1541.4 1442.8,1541.4 1443.8,1541.3 1444.8,1541.2 1445.8,1541.2 1446.8,1541.1 1447.8,1541.1 1448.8,1541 1449.8,1541 1450.8,1540.9 1451.8,1540.9 1452.8,1540.8 1453.8,1540.8 1454.8,1540.7 1455.8,1540.7 1456.8,1540.6 1457.8,1540.6 1458.8,1540.5 1459.8,1540.5 1460.8,1540.4 1461.8,1540.4 1462.8,1540.3 1463.8,1540.3 1464.8,1540.2 1465.8,1540.2 1466.8,1540.2 1467.8,1540.1 1468.8,1540.1 1469.8,1540.1 1470.8,1540 1471.8,1540 1472.8,1539.9 1473.8,1539.9 1474.8,1539.9 1475.8,1539.9 1476.8,1539.8 1477.8,1539.8 1478.8,1539.8 1479.8,1539.8 1480.8,1539.7 1481.8,1539.7 1482.6,1539.7 1483.8,1539.7 1484.8,1539.7 1485.8,1539.6 1486.8,1539.6 1487.8,1539.6 1488.8,1539.6 1489.8,1539.6 1490.8,1539.6 1491.8,1539.6 1492.8,1539.5 1493.8,1539.5 1494.8,1539.5 1495.8,1539.5 1496.8,1539.5 1497.8,1539.5 1498.8,1539.5 1500,1539.5 1500.8,1539.5 1501.8,1539.5 1502.8,1539.5 1503.8,1539.5 1504.8,1539.5 1505.8,1539.5 1506.8,1539.6 1507.8,1539.6 1508.8,1539.6 1509.8,1539.6 1510.8,1539.6 1511.8,1539.7 1512.8,1539.7 1513.8,1539.7 1514.8,1539.8 1515.8,1539.8 1516.8,1539.8 1517.8,1539.9 1518.8,1539.9 1519.8,1540 1520.8,1540 1521.8,1540.1 1522.8,1540.1 1523.8,1540.2 1524.8,1540.2 1525.8,1540.3 1526.8,1540.4 1527.8,1540.4 1528.8,1540.5 1529.8,1540.6 1530.8,1540.6 1531.8,1540.7 1532.8,1540.8 1533.8,1540.9 1534.8,1540.9 1535.8,1541 1536.8,1541.1 1537.8,1541.2 1538.8,1541.3 1540,1541.4 1540.8,1541.5 1541.8,1541.7 1542.8,1542 1543.8,1542.4 1544.8,1542.8 1545.8,1543.3 1546.8,1543.8 1547.8,1544.2 1548.8,1544.7 1549.8,1545.1 1550.8,1545.5 1551.8,1545.8 1552.8,1546 1553.8,1546.2 1554.4,1546.2 1554.8,1546.2 1555.8,1546.2 1556.8,1546.1 1557.8,1545.9 1558.8,1545.8 1559.8,1545.6 1560.8,1545.3 1561.8,1545 1562.8,1544.8 1563.8,1544.4 1564.8,1544.1 1565.8,1543.8 1566.8,1543.4 1567.8,1543 1568.9,1542.6 1569.8,1542.2 1570.8,1541.6 1571.8,1540.8 1572.8,1539.9 1573.8,1538.9 1574.8,1537.9 1575.8,1536.9 1576.8,1536 1577.8,1535.1 1578.8,1534.3 1579.8,1533.6 1580.8,1533.2 1581.8,1532.9 1582.2,1532.9 1582.8,1533.1 1583.8,1534.2 1584.8,1536 1585.8,1538.2 1586.8,1540.5 1587.8,1542.4 1588.8,1543.6 1589.4,1543.8 1589.8,1543.8 1590.8,1543.6 1591.8,1543.3 1592.8,1542.8 1593.8,1542.1 1594.8,1541.4 1595.8,1540.6 1596.5,1540 1597.8,1538.6 1598.8,1537 1599.8,1535.1 1600.8,1532.8 1601.5,1531 1602.8,1527.3 1603.8,1523.3 1604.8,1517.5 1605.8,1507.7 1606.9,1490.4 1607.8,1472.5 1608.7,1454.2 1609.8,1442.6 1611,1435.8 1611.8,1439.1 1612.8,1449.3 1613.2,1454.2 1613.8,1460.4 1614.8,1473.9 1615.9,1490.4 1616.8,1503.7 1617.8,1517.5 1618.8,1524.5 1619.8,1530.3 1621,1535 1621.8,1536.9 1622.8,1539 1623.8,1540.7 1624.8,1542.1 1626,1543.5 1626.8,1544.2 1627.8,1545.1 1628.8,1545.9 1629.8,1546.5 1630.7,1547.1 1631.7,1547.4 1632.7,1547.7 1633.7,1547.9 1634.7,1548.2 1635.7,1548.4 1636.7,1548.6 1637.7,1548.8 1638.7,1549 1639.7,1549.2 1640.7,1549.4 1641.7,1549.6 1642.7,1549.7 1643.7,1549.9 1644.7,1550 1645.7,1550.1 1646.7,1550.2 1647.7,1550.3 1648.7,1550.3 1649.7,1550.4 1650.7,1550.4 1651.7,1550.5 1652.7,1550.5 1653.4,1550.5 1654.7,1550.5 1655.7,1550.5 1656.7,1550.5 1657.7,1550.5 1658.7,1550.5 1659.7,1550.5 1660.7,1550.5 1661.7,1550.5 1662.7,1550.5 1663.7,1550.5 1664.7,1550.5 1665.7,1550.5 1666.7,1550.5 1667.7,1550.5 1668.7,1550.5 1669.7,1550.5 1670.7,1550.5 1671.7,1550.5 1672.7,1550.5 1673.7,1550.5 1674.7,1550.5 1675.7,1550.5 1676.7,1550.5 1677.5,1550.5 1678.7,1550.5 1679.7,1550.5 1680.7,1550.5 1681.7,1550.4 1682.7,1550.4 1683.7,1550.3 1684.7,1550.3 1685.7,1550.2 1686.7,1550.1 1687.7,1550.1 1688.7,1550 1689.7,1549.9 1690.7,1549.8 1691.7,1549.7 1692.7,1549.6 1693.7,1549.5 1694.7,1549.4 1695.7,1549.3 1696.7,1549.2 1697.7,1549.1 1698.7,1548.9 1699.7,1548.8 1700.7,1548.7 1701.6,1548.6 1702.7,1548.5 1703.7,1548.3 1704.7,1548.1 1705.7,1548 1706.7,1547.8 1707.7,1547.6 1708.7,1547.3 1709.7,1547.1 1710.7,1546.9 1711.7,1546.6 1712.7,1546.4 1713.7,1546.1 1714.7,1545.8 1715.7,1545.6 1716.7,1545.3 1717.7,1545 1718.7,1544.7 1719.7,1544.4 1720.7,1544.1 1721.7,1543.8 1722.7,1543.5 1723.7,1543.2 1724.7,1542.9 1725.8,1542.6 1726.7,1542.3 1727.7,1542 1728.7,1541.7 1729.7,1541.4 1730.7,1541.1 1731.7,1540.8 1732.7,1540.4 1733.7,1540.1 1734.7,1539.8 1735.7,1539.4 1736.7,1539.1 1737.7,1538.7 1738.7,1538.3 1739.7,1538 1740.7,1537.6 1741.7,1537.2 1742.7,1536.9 1743.7,1536.5 1744.7,1536.1 1745.7,1535.7 1746.7,1535.3 1747.7,1534.9 1748.7,1534.6 1749.9,1534.1 1750.7,1533.8 1751.7,1533.4 1752.7,1533 1753.7,1532.5 1754.7,1532.1 1755.7,1531.7 1756.7,1531.3 1757.7,1530.8 1758.7,1530.4 1759.7,1530 1760.7,1529.5 1761.7,1529.1 1762.7,1528.6 1763.7,1528.2 1764.7,1527.7 1765.7,1527.2 1766.7,1526.8 1767.7,1526.3 1768.7,1525.8 1769.7,1525.4 1770.7,1524.9 1771.7,1524.4 1772.7,1523.9 1774,1523.3 1774.7,1522.9 1775.7,1522.5 1776.7,1522 1777.7,1521.5 1778.7,1521 1780,1520.2 1780.7,1519.7 1781.7,1519 1782.7,1518.3 1783.7,1517.5 1784.7,1516.6 1785.7,1515.7 1786.7,1514.8 1787.7,1513.9 1788.7,1512.9 1789.7,1511.9 1790.7,1510.9 1791.7,1509.9 1792.7,1508.9 1793.7,1507.9 1794.5,1507.1 1795.7,1505.9 1796.7,1504.8 1797.7,1503.8 1798.7,1502.7 1799.7,1501.7 1800.7,1500.5 1801.7,1499.3 1802.7,1498.1 1803.7,1496.8 1804.6,1495.6 1805.7,1493.8 1806.7,1491.9 1807.7,1489.9 1808.7,1488 1809.7,1486.1 1810.7,1484.5 1811.1,1484 1811.7,1483.2 1812.7,1481.8 1813.7,1480.5 1814.7,1479.4 1815.7,1478.6 1816.9,1478.2 1817.7,1478.5 1818.7,1479.5 1819.7,1480.7 1820.7,1481.8 1822,1482.5 1822.7,1482.5 1823.7,1482.4 1824.7,1482.2 1825.7,1482 1826.7,1481.9 1827.8,1481.8 1828.7,1482.6 1829.7,1485 1830.7,1488 1831.7,1491.1 1832.7,1493.3 1833.6,1494.1 1834.7,1493.3 1835.7,1491.6 1836.7,1489.1 1837.7,1486.2 1838.7,1483.1 1839.4,1481.1 1840.7,1476.5 1841.7,1472.3 1842.7,1467.8 1843.7,1463.5 1844.7,1459.5 1845.2,1457.9 1845.7,1456.2 1846.7,1453 1847.7,1449.8 1848.7,1446.8 1849.7,1444.1 1850.7,1441.8 1851.7,1440 1852.4,1439.1 1853.7,1437.7 1854.7,1436.8 1855.7,1436 1856.7,1435.3 1857.7,1434.9 1858.9,1434.7 1859.7,1434.9 1860.7,1435.6 1861.7,1436.7 1862.7,1438.2 1863.7,1440 1864.7,1442 1865.4,1443.4 1866.7,1447.8 1867.7,1452.6 1868.7,1458.3 1869.7,1464.2 1870.7,1469.9 1871.2,1472.4 1871.7,1475.1 1872.7,1480.9 1873.7,1486.6 1874.7,1491.4 1875.6,1494.1 1876.7,1496.4 1877.7,1498.1 1878.7,1499.3 1879.9,1499.9 1880.7,1499.5 1881.7,1498.2 1882.7,1496.1 1883.7,1493.4 1884.7,1490.2 1885.7,1486.9 1886.7,1481.3 1887.7,1473.2 1888.7,1464.9 1890,1457.9 1890.7,1456 1891.7,1453.6 1892.7,1452 1893.7,1451.4 1894.7,1452.7 1895.7,1456.2 1896.7,1461.5 1897.3,1465.2 1897.7,1470 1898.7,1490.2 1899.4,1501.4 1900.7,1513.8 1901.7,1521.1 1902.7,1526.1 1903.1,1527.4 1903.7,1529.1 1904.7,1531.4 1905.7,1533.5 1906.7,1535.1 1907.7,1536.5 1908.7,1537.7 1909.7,1538.6 1910.3,1539 1910.7,1539.3 1911.7,1539.9 1912.7,1540.5 1913.7,1541.1 1914.7,1541.6 1915.7,1542 1916.7,1542.3 1917.7,1542.5 1919,1542.6 1919.7,1542.6 1920.7,1542.5 1921.7,1542.4 1922.7,1542.3 1923.7,1542.2 1924.7,1542 1925.7,1541.7 1926.7,1541.5 1927.7,1541.2 1928.7,1540.7 1929.7,1540 1930.7,1539 1931.7,1537.7 1932.7,1536.1 1933.5,1534.7 1934.7,1530.2 1935.7,1524.8 1936.7,1520 1937.1,1518.7 1937.7,1517 1938.7,1514.3 1939.7,1512.3 1940.7,1511.5 1941.7,1512.1 1942.7,1513.7 1943.7,1516.1 1944.7,1519 1945.1,1520.2 1945.7,1523.3 1946.7,1531.1 1948,1539 1948.7,1540.8 1949.7,1542.9 1950.7,1544.7 1951.7,1546.1 1952.7,1547.1 1953.7,1547.7 1954.7,1548.1 1955.7,1548.5 1956.7,1548.9 1957.7,1549.2 1958.7,1549.5 1959.7,1549.7 1960.7,1549.8 1961.7,1549.9 1962.4,1549.9 1963.7,1549.9 1964.7,1549.9 1965.7,1549.9 1966.7,1549.9 1967.7,1549.9 1968.7,1549.9 1969.7,1549.9 1970.7,1549.9 1971.7,1549.9 1972.7,1549.9 1973.7,1549.9 1974.7,1549.9 1975.7,1549.9 1976.7,1549.9 1977.7,1549.9 1978.7,1549.9 1979.7,1549.9 1980.7,1549.9 1981.7,1549.9 1982.7,1549.9 1983.7,1549.9 1984.7,1549.9 1985.7,1549.9 1986.7,1549.9 1987.7,1549.9 1988.7,1549.9 1989.9,1549.9 1990.7,1549.9 1991.7,1549.9 1992.7,1549.9 1993.7,1549.9 1994.7,1549.9 1995.7,1549.9 1996.7,1549.9 1997.7,1549.9 1998.7,1549.9 1999.7,1549.9 2000.7,1549.9 2001.7,1549.9 2002.7,1549.8 2003.7,1549.8 2004.7,1549.8 2005.7,1549.8 2006.7,1549.8 2007.7,1549.8 2008.7,1549.8 2009.7,1549.8 2010.7,1549.8 2011.7,1549.7 2012.7,1549.7 2013.7,1549.7 2014.7,1549.7 2015.7,1549.7 2016.7,1549.7 2017.7,1549.7 2018.7,1549.6 2019.7,1549.6 2020.7,1549.6 2021.7,1549.6 2022.7,1549.6 2023.7,1549.6 2024.7,1549.5 2025.7,1549.5 2026.7,1549.5 2027.7,1549.5 2028.7,1549.5 2029.7,1549.5 2030.7,1549.4 2031.7,1549.4 2032.7,1549.4"/>
</g>
<defs><clipPath id="ic"><rect x="800" y="100" width="900" height="1024"/></clipPath></defs>
<rect x="811" y="1122" width="865" height="4" fill="#000" shape-rendering="crispEdges"/>
<rect x="811" y="1124" width="4" height="15" fill="#000" shape-rendering="crispEdges"/>
<rect x="1064.4" y="1124" width="4" height="15" fill="#000" shape-rendering="crispEdges"/>
<rect x="1317.8" y="1124" width="4" height="15" fill="#000" shape-rendering="crispEdges"/>
<rect x="1571.2" y="1124" width="4" height="15" fill="#000" shape-rendering="crispEdges"/>
<rect x="938.2" y="1124" width="3" height="8" fill="#000" shape-rendering="crispEdges"/>
<rect x="1191.6" y="1124" width="3" height="8" fill="#000" shape-rendering="crispEdges"/>
<rect x="1445" y="1124" width="3" height="8" fill="#000" shape-rendering="crispEdges"/>
<g class="c" stroke-width="9" clip-path="url(#ic)" style="stroke-linecap:butt">
<polyline stroke="#FDB32F" points="953.7,1146.6 963.4,1116.1 973.2,1083.4 983,1042.8 992.7,993.9 1002.5,938.1 1012.3,869.7 1022.1,793.3 1031.8,699.9 1041.6,613.4 1051.4,528 1061.2,427.8 1070.9,336.3 1080.7,259.6 1090.5,206.7 1100.3,183 1110,191.2 1119.8,228.3 1129.6,282.2 1139.4,354.6 1149.1,434.7 1158.9,517.7 1168.7,577.7 1178.4,636.9 1188.2,688.4 1198,733.8 1207.8,774.3 1217.5,808.2 1227.3,833.2 1237.1,853.2 1246.9,872.7 1256.6,889.4 1266.4,902.8 1276.2,913.4 1286,922.2 1295.7,929.6 1305.5,935.7 1315.3,940.7 1325.1,945.4 1334.8,949 1344.6,951.7 1354.4,953.6 1364.1,954.9 1373.9,955.8 1383.7,955.7 1393.5,955.3 1403.2,954.5 1413,953.8 1422.8,953.4 1432.6,953.4 1442.3,953.5 1452.1,954.3 1461.9,957 1471.7,960.8 1481.4,965.9 1491.2,973 1501,982.5 1510.8,995.1 1520.5,1011.8 1530.3,1030.9 1540.1,1052.4 1549.8,1075.6 1559.6,1100.7 1569.4,1126.7"/>
<polyline stroke="#CC4778" points="973.2,1128.3 983,1089.8 992.7,1044.2 1002.5,991.9 1012.3,930 1022.1,862.4 1031.8,782.2 1041.6,698.9 1051.4,614.2 1061.2,537.3 1070.9,462.1 1080.7,391.7 1090.5,340.5 1100.3,318.3 1110,323.7 1119.8,351.7 1129.6,406.1 1139.4,467.6 1149.1,533.7 1158.9,589 1168.7,647.8 1178.4,697.3 1188.2,742.1 1198,781.4 1207.8,813.8 1217.5,838.9 1227.3,860.5 1237.1,879.9 1246.9,896.3 1256.6,910 1266.4,921.5 1276.2,931.4 1286,940 1295.7,947.4 1305.5,953.4 1315.3,958.6 1325.1,963.5 1334.8,968 1344.6,971.8 1354.4,974.4 1364.1,976.5 1373.9,978.3 1383.7,979.6 1393.5,980.7 1403.2,982 1413,983.3 1422.8,984.9 1432.6,987 1442.3,989.9 1452.1,993.4 1461.9,997.5 1471.7,1003 1481.4,1010 1491.2,1019 1501,1030.6 1510.8,1044.8 1520.5,1061.4 1530.3,1078.9 1540.1,1097.4 1549.8,1117.8 1559.6,1138.5"/>
<polyline stroke="#5C01A6" points="992.7,1124.1 1002.5,1081.1 1012.3,1027 1022.1,968.2 1031.8,906.3 1041.6,843.3 1051.4,766.8 1061.2,688.2 1070.9,619.2 1080.7,550.9 1090.5,512.5 1100.3,491.4 1110,496.5 1119.8,519.7 1129.6,568.7 1139.4,623.5 1149.1,687.3 1158.9,749.6 1168.7,803.2 1178.4,848.4 1188.2,884.7 1198,919.8 1207.8,950.5 1217.5,974.3 1227.3,993.3 1237.1,1007.8 1246.9,1020.4 1256.6,1032.1 1266.4,1042.6 1276.2,1051.6 1286,1059 1295.7,1065.2 1305.5,1070.1 1315.3,1073.8 1325.1,1076.7 1334.8,1079 1344.6,1081.1 1354.4,1082.4 1364.1,1083.1 1373.9,1083 1383.7,1082.7 1393.5,1082.3 1403.2,1081.8 1413,1081.2 1422.8,1081 1432.6,1081 1442.3,1081.5 1452.1,1082.8 1461.9,1085.3 1471.7,1088.6 1481.4,1093 1491.2,1099.2 1501,1106.8 1510.8,1116.3 1520.5,1127.4 1530.3,1138.6"/>
</g>
<text class="it" x="813" y="1174" text-anchor="middle">950</text>
<text class="it" x="1066.4" y="1174" text-anchor="middle">1000</text>
<text class="it" x="1319.8" y="1174" text-anchor="middle">1050</text>
<text class="it" x="1573.2" y="1174" text-anchor="middle">1100</text>
<line x1="609.4" y1="1184.6" x2="795.6" y2="1124.9" stroke="#000" stroke-opacity="0.7" stroke-width="5.2" stroke-dasharray="21 18" shape-rendering="crispEdges"/>
<polygon points="833.6,1112.7 799,1135.7 792.1,1114.2" fill="#000" fill-opacity="0.86" stroke="#000" stroke-opacity="0.6" stroke-width="1" stroke-linejoin="round" shape-rendering="crispEdges"/>
<line x1="670" y1="1204.2" x2="1625.1" y2="1139.4" stroke="#000" stroke-opacity="0.77" stroke-width="5.2" stroke-dasharray="21 18" shape-rendering="crispEdges"/>
<polygon points="1667,1136.6 1625.9,1150.9 1624.3,1127.9" fill="#000" fill-opacity="0.86" stroke="#000" stroke-opacity="0.6" stroke-width="1" stroke-linejoin="round" shape-rendering="crispEdges"/>
<g fill="#000" shape-rendering="crispEdges">
<rect x="240" y="37" width="13" height="1653"/>
<rect x="2253" y="37" width="12" height="1653"/>
<rect x="215" y="37" width="2050" height="13"/>
<rect x="231" y="1667" width="2034" height="13"/>
<rect x="215" y="287.8" width="26" height="13"/>
<rect x="215" y="538.5" width="26" height="13"/>
<rect x="215" y="789.3" width="26" height="13"/>
<rect x="215" y="1040.1" width="26" height="13"/>
<rect x="215" y="1290.8" width="26" height="13"/>
<rect x="215" y="1541.6" width="26" height="13"/>
<rect x="231" y="162.4" width="10" height="13"/>
<rect x="231" y="413.1" width="10" height="13"/>
<rect x="231" y="663.9" width="10" height="13"/>
<rect x="231" y="914.7" width="10" height="13"/>
<rect x="231" y="1165.4" width="10" height="13"/>
<rect x="231" y="1416.2" width="10" height="13"/>
<rect x="366" y="1679" width="13" height="27"/>
<rect x="617.6" y="1679" width="13" height="27"/>
<rect x="869.1" y="1679" width="13" height="27"/>
<rect x="1120.7" y="1679" width="13" height="27"/>
<rect x="1372.3" y="1679" width="13" height="27"/>
<rect x="1623.9" y="1679" width="13" height="27"/>
<rect x="1875.4" y="1679" width="13" height="27"/>
<rect x="2127" y="1679" width="13" height="27"/>
<rect x="491.8" y="1679" width="13" height="11"/>
<rect x="743.4" y="1679" width="13" height="11"/>
<rect x="994.9" y="1679" width="13" height="11"/>
<rect x="1246.5" y="1679" width="13" height="11"/>
<rect x="1498.1" y="1679" width="13" height="11"/>
<rect x="1749.6" y="1679" width="13" height="11"/>
<rect x="2001.2" y="1679" width="13" height="11"/>
</g>
<text class="tk" transform="translate(192.2 63.6) scale(0.98 1)" text-anchor="end">1.2</text>
<text class="tk" transform="translate(192.2 314.4) scale(0.98 1)" text-anchor="end">1.0</text>
<text class="tk" transform="translate(192.2 565.1) scale(0.98 1)" text-anchor="end">0.8</text>
<text class="tk" transform="translate(192.2 815.9) scale(0.98 1)" text-anchor="end">0.6</text>
<text class="tk" transform="translate(192.2 1066.7) scale(0.98 1)" text-anchor="end">0.4</text>
<text class="tk" transform="translate(192.2 1317.4) scale(0.98 1)" text-anchor="end">0.2</text>
<text class="tk" transform="translate(192.2 1568.2) scale(0.98 1)" text-anchor="end">0.0</text>
<text class="tk" transform="translate(372.5 1780.9) scale(0.98 1)" text-anchor="middle">500</text>
<text class="tk" transform="translate(624.1 1780.9) scale(0.98 1)" text-anchor="middle">1000</text>
<text class="tk" transform="translate(875.6 1780.9) scale(0.98 1)" text-anchor="middle">1500</text>
<text class="tk" transform="translate(1127.2 1780.9) scale(0.98 1)" text-anchor="middle">2000</text>
<text class="tk" transform="translate(1378.8 1780.9) scale(0.98 1)" text-anchor="middle">2500</text>
<text class="tk" transform="translate(1630.4 1780.9) scale(0.98 1)" text-anchor="middle">3000</text>
<text class="tk" transform="translate(1881.9 1780.9) scale(0.98 1)" text-anchor="middle">3500</text>
<text class="tk" transform="translate(2133.5 1780.9) scale(0.98 1)" text-anchor="middle">4000</text>
<text class="ti" x="923.5" y="1924.6">Wavenumbers/cm<tspan font-size="59.5px" dx="-2" dy="-35.4">-</tspan><tspan font-size="59.5px" dx="-3.5">1</tspan></text>
<text class="ti" style="font-size:85px" transform="translate(70.8 1172.5) rotate(-90)" x="0" y="0">Transmittance (%)</text>
<rect x="1378.5" y="183.5" width="772" height="294" fill="#fff" stroke="#000" stroke-width="9" shape-rendering="crispEdges"/>
<rect x="1386" y="240" width="122" height="9" fill="#FDB32F" shape-rendering="crispEdges"/>
<text class="lg" x="1526.5" y="262">Unaged</text>
<rect x="1386" y="336.1" width="122" height="9" fill="#CC4778" shape-rendering="crispEdges"/>
<text class="lg" x="1526.5" y="358">Aged for 8 circles</text>
<rect x="1386" y="432.1" width="122" height="9" fill="#5C01A6" shape-rendering="crispEdges"/>
<text class="lg" x="1526.5" y="454">Aged for 16 circles</text>
</svg>
</body></html>
